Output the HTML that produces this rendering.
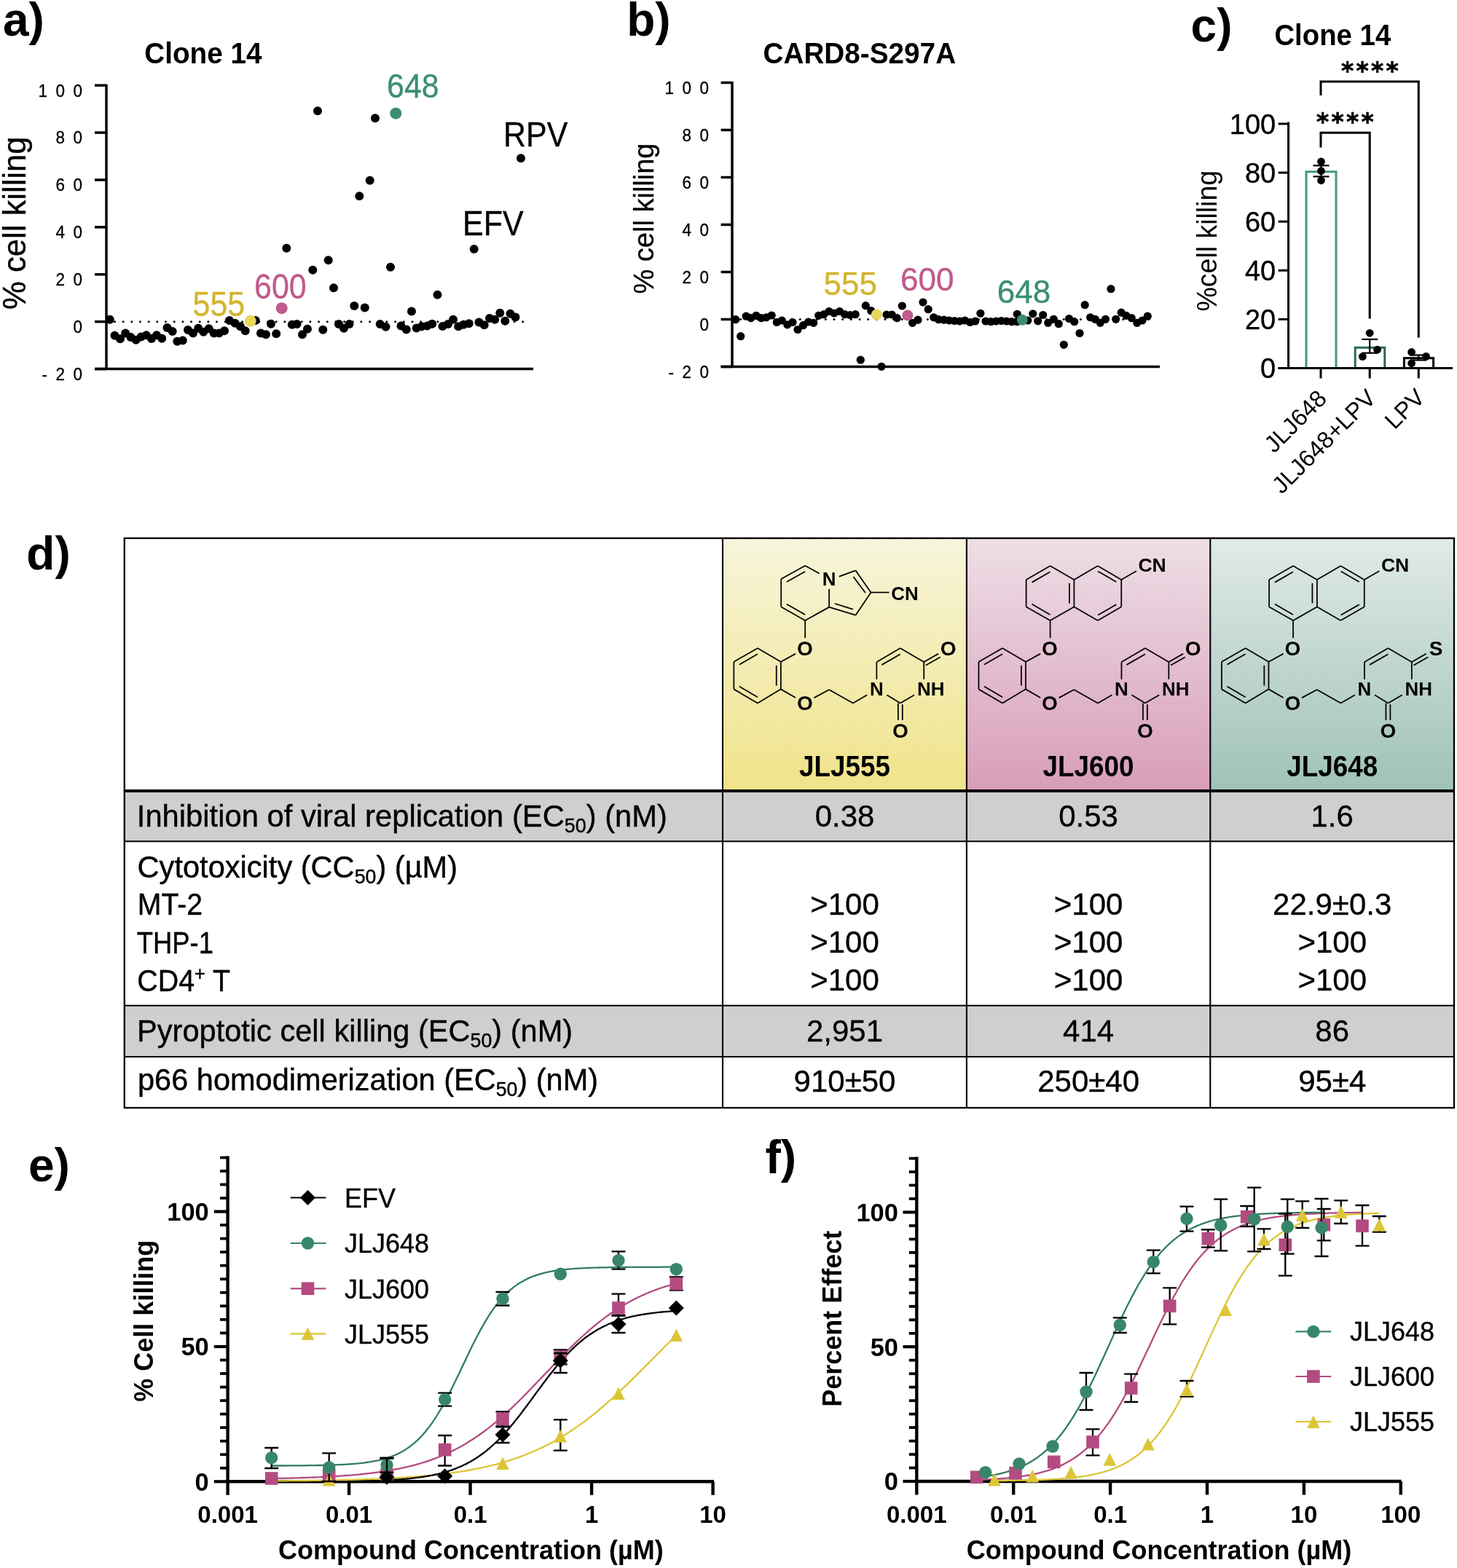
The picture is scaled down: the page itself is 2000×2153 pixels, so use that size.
<!DOCTYPE html>
<html><head><meta charset="utf-8"><title>Figure</title><style>html,body{margin:0;padding:0;background:#fff;}svg{display:block;}text{font-family:"Liberation Sans",Arial,Helvetica,sans-serif;}</style></head><body>
<svg width="2000" height="2153" viewBox="0 0 2000 2153">
<rect width="2000" height="2153" fill="#fff"/>
<text x="4.0" y="49.0" font-size="64" font-weight="bold" text-anchor="start" fill="#000" >a)</text>
<text x="860.2" y="48.7" font-size="64" font-weight="bold" text-anchor="start" fill="#000" >b)</text>
<text x="1634.6" y="56.6" font-size="64" font-weight="bold" text-anchor="start" fill="#000" >c)</text>
<text x="36.3" y="782.0" font-size="64" font-weight="bold" text-anchor="start" fill="#000" >d)</text>
<text x="39.0" y="1622.0" font-size="64" font-weight="bold" text-anchor="start" fill="#000" >e)</text>
<text x="1050.4" y="1611.0" font-size="64" font-weight="bold" text-anchor="start" fill="#000" >f)</text>
<g>
<line x1="146.0" y1="115.7" x2="146.0" y2="506.6" stroke="#000" stroke-width="3.5" />
<line x1="130.0" y1="506.6" x2="732.0" y2="506.6" stroke="#000" stroke-width="3.5" />
<line x1="130.0" y1="117.2" x2="146.0" y2="117.2" stroke="#000" stroke-width="3.5" />
<text transform="translate(52.5,132.5) scale(1,1.06)" font-size="22.5" fill="#000" stroke="#000" stroke-width="0.3" letter-spacing="11.5">100</text>
<line x1="130.0" y1="182.1" x2="146.0" y2="182.1" stroke="#000" stroke-width="3.5" />
<text transform="translate(76.5,197.4) scale(1,1.06)" font-size="22.5" fill="#000" stroke="#000" stroke-width="0.3" letter-spacing="11.5">80</text>
<line x1="130.0" y1="247.0" x2="146.0" y2="247.0" stroke="#000" stroke-width="3.5" />
<text transform="translate(76.5,262.3) scale(1,1.06)" font-size="22.5" fill="#000" stroke="#000" stroke-width="0.3" letter-spacing="11.5">60</text>
<line x1="130.0" y1="311.9" x2="146.0" y2="311.9" stroke="#000" stroke-width="3.5" />
<text transform="translate(76.5,327.2) scale(1,1.06)" font-size="22.5" fill="#000" stroke="#000" stroke-width="0.3" letter-spacing="11.5">40</text>
<line x1="130.0" y1="376.8" x2="146.0" y2="376.8" stroke="#000" stroke-width="3.5" />
<text transform="translate(76.5,392.1) scale(1,1.06)" font-size="22.5" fill="#000" stroke="#000" stroke-width="0.3" letter-spacing="11.5">20</text>
<line x1="130.0" y1="441.7" x2="146.0" y2="441.7" stroke="#000" stroke-width="3.5" />
<text transform="translate(100.5,457.0) scale(1,1.06)" font-size="22.5" fill="#000" stroke="#000" stroke-width="0.3" letter-spacing="11.5">0</text>
<line x1="130.0" y1="506.6" x2="146.0" y2="506.6" stroke="#000" stroke-width="3.5" />
<text transform="translate(57.5,521.9) scale(1,1.06)" font-size="22.5" fill="#000" stroke="#000" stroke-width="0.3" letter-spacing="11.5">-20</text>
<circle cx="157.5" cy="441.7" r="1.5" fill="#000"/>
<circle cx="169.2" cy="441.7" r="1.5" fill="#000"/>
<circle cx="180.8" cy="441.7" r="1.5" fill="#000"/>
<circle cx="192.5" cy="441.7" r="1.5" fill="#000"/>
<circle cx="204.2" cy="441.7" r="1.5" fill="#000"/>
<circle cx="215.8" cy="441.7" r="1.5" fill="#000"/>
<circle cx="227.5" cy="441.7" r="1.5" fill="#000"/>
<circle cx="239.2" cy="441.7" r="1.5" fill="#000"/>
<circle cx="250.9" cy="441.7" r="1.5" fill="#000"/>
<circle cx="262.5" cy="441.7" r="1.5" fill="#000"/>
<circle cx="274.2" cy="441.7" r="1.5" fill="#000"/>
<circle cx="285.9" cy="441.7" r="1.5" fill="#000"/>
<circle cx="297.5" cy="441.7" r="1.5" fill="#000"/>
<circle cx="309.2" cy="441.7" r="1.5" fill="#000"/>
<circle cx="320.9" cy="441.7" r="1.5" fill="#000"/>
<circle cx="332.6" cy="441.7" r="1.5" fill="#000"/>
<circle cx="344.2" cy="441.7" r="1.5" fill="#000"/>
<circle cx="355.9" cy="441.7" r="1.5" fill="#000"/>
<circle cx="367.6" cy="441.7" r="1.5" fill="#000"/>
<circle cx="379.2" cy="441.7" r="1.5" fill="#000"/>
<circle cx="390.9" cy="441.7" r="1.5" fill="#000"/>
<circle cx="402.6" cy="441.7" r="1.5" fill="#000"/>
<circle cx="414.2" cy="441.7" r="1.5" fill="#000"/>
<circle cx="425.9" cy="441.7" r="1.5" fill="#000"/>
<circle cx="437.6" cy="441.7" r="1.5" fill="#000"/>
<circle cx="449.3" cy="441.7" r="1.5" fill="#000"/>
<circle cx="460.9" cy="441.7" r="1.5" fill="#000"/>
<circle cx="472.6" cy="441.7" r="1.5" fill="#000"/>
<circle cx="484.3" cy="441.7" r="1.5" fill="#000"/>
<circle cx="495.9" cy="441.7" r="1.5" fill="#000"/>
<circle cx="507.6" cy="441.7" r="1.5" fill="#000"/>
<circle cx="519.3" cy="441.7" r="1.5" fill="#000"/>
<circle cx="530.9" cy="441.7" r="1.5" fill="#000"/>
<circle cx="542.6" cy="441.7" r="1.5" fill="#000"/>
<circle cx="554.3" cy="441.7" r="1.5" fill="#000"/>
<circle cx="566.0" cy="441.7" r="1.5" fill="#000"/>
<circle cx="577.6" cy="441.7" r="1.5" fill="#000"/>
<circle cx="589.3" cy="441.7" r="1.5" fill="#000"/>
<circle cx="601.0" cy="441.7" r="1.5" fill="#000"/>
<circle cx="612.6" cy="441.7" r="1.5" fill="#000"/>
<circle cx="624.3" cy="441.7" r="1.5" fill="#000"/>
<circle cx="636.0" cy="441.7" r="1.5" fill="#000"/>
<circle cx="647.6" cy="441.7" r="1.5" fill="#000"/>
<circle cx="659.3" cy="441.7" r="1.5" fill="#000"/>
<circle cx="671.0" cy="441.7" r="1.5" fill="#000"/>
<circle cx="682.6" cy="441.7" r="1.5" fill="#000"/>
<circle cx="694.3" cy="441.7" r="1.5" fill="#000"/>
<circle cx="706.0" cy="441.7" r="1.5" fill="#000"/>
<circle cx="717.7" cy="441.7" r="1.5" fill="#000"/>
<circle cx="150.8" cy="438.7" r="6" fill="#000"/>
<circle cx="157.5" cy="460.8" r="6" fill="#000"/>
<circle cx="165.0" cy="465.3" r="6" fill="#000"/>
<circle cx="172.2" cy="457.5" r="6" fill="#000"/>
<circle cx="179.5" cy="463.0" r="6" fill="#000"/>
<circle cx="186.7" cy="466.7" r="6" fill="#000"/>
<circle cx="193.7" cy="462.5" r="6" fill="#000"/>
<circle cx="200.8" cy="460.3" r="6" fill="#000"/>
<circle cx="208.0" cy="465.0" r="6" fill="#000"/>
<circle cx="215.0" cy="460.3" r="6" fill="#000"/>
<circle cx="222.2" cy="464.7" r="6" fill="#000"/>
<circle cx="229.5" cy="450.0" r="6" fill="#000"/>
<circle cx="236.7" cy="455.0" r="6" fill="#000"/>
<circle cx="243.3" cy="468.7" r="6" fill="#000"/>
<circle cx="250.8" cy="467.5" r="6" fill="#000"/>
<circle cx="258.0" cy="453.0" r="6" fill="#000"/>
<circle cx="265.0" cy="457.5" r="6" fill="#000"/>
<circle cx="272.2" cy="450.8" r="6" fill="#000"/>
<circle cx="279.3" cy="455.8" r="6" fill="#000"/>
<circle cx="286.7" cy="451.3" r="6" fill="#000"/>
<circle cx="293.7" cy="457.5" r="6" fill="#000"/>
<circle cx="300.8" cy="457.5" r="6" fill="#000"/>
<circle cx="308.0" cy="454.2" r="6" fill="#000"/>
<circle cx="315.0" cy="440.0" r="6" fill="#000"/>
<circle cx="322.5" cy="443.7" r="6" fill="#000"/>
<circle cx="330.0" cy="448.3" r="6" fill="#000"/>
<circle cx="336.7" cy="454.2" r="6" fill="#000"/>
<circle cx="350.8" cy="440.0" r="6" fill="#000"/>
<circle cx="358.0" cy="457.5" r="6" fill="#000"/>
<circle cx="365.0" cy="459.2" r="6" fill="#000"/>
<circle cx="372.0" cy="444.7" r="6" fill="#000"/>
<circle cx="379.2" cy="458.3" r="6" fill="#000"/>
<circle cx="393.3" cy="340.7" r="6" fill="#000"/>
<circle cx="400.8" cy="445.8" r="6" fill="#000"/>
<circle cx="407.5" cy="445.0" r="6" fill="#000"/>
<circle cx="415.0" cy="459.2" r="6" fill="#000"/>
<circle cx="422.0" cy="451.7" r="6" fill="#000"/>
<circle cx="429.3" cy="370.7" r="6" fill="#000"/>
<circle cx="436.0" cy="152.3" r="6" fill="#000"/>
<circle cx="443.3" cy="452.7" r="6" fill="#000"/>
<circle cx="450.7" cy="357.3" r="6" fill="#000"/>
<circle cx="458.0" cy="395.3" r="6" fill="#000"/>
<circle cx="465.0" cy="445.0" r="6" fill="#000"/>
<circle cx="472.0" cy="450.8" r="6" fill="#000"/>
<circle cx="479.5" cy="445.0" r="6" fill="#000"/>
<circle cx="486.3" cy="420.0" r="6" fill="#000"/>
<circle cx="493.3" cy="269.3" r="6" fill="#000"/>
<circle cx="500.8" cy="422.5" r="6" fill="#000"/>
<circle cx="507.7" cy="247.7" r="6" fill="#000"/>
<circle cx="515.0" cy="162.3" r="6" fill="#000"/>
<circle cx="521.7" cy="445.0" r="6" fill="#000"/>
<circle cx="529.5" cy="448.8" r="6" fill="#000"/>
<circle cx="536.0" cy="366.7" r="6" fill="#000"/>
<circle cx="550.5" cy="447.5" r="6" fill="#000"/>
<circle cx="557.8" cy="452.5" r="6" fill="#000"/>
<circle cx="565.0" cy="427.5" r="6" fill="#000"/>
<circle cx="571.7" cy="450.5" r="6" fill="#000"/>
<circle cx="578.8" cy="448.3" r="6" fill="#000"/>
<circle cx="586.3" cy="447.5" r="6" fill="#000"/>
<circle cx="593.3" cy="444.7" r="6" fill="#000"/>
<circle cx="600.5" cy="404.7" r="6" fill="#000"/>
<circle cx="607.5" cy="448.0" r="6" fill="#000"/>
<circle cx="615.0" cy="445.0" r="6" fill="#000"/>
<circle cx="622.0" cy="438.7" r="6" fill="#000"/>
<circle cx="629.2" cy="448.3" r="6" fill="#000"/>
<circle cx="636.3" cy="445.8" r="6" fill="#000"/>
<circle cx="643.7" cy="444.2" r="6" fill="#000"/>
<circle cx="650.7" cy="342.0" r="6" fill="#000"/>
<circle cx="657.5" cy="442.5" r="6" fill="#000"/>
<circle cx="664.7" cy="446.3" r="6" fill="#000"/>
<circle cx="672.0" cy="437.0" r="6" fill="#000"/>
<circle cx="679.2" cy="438.7" r="6" fill="#000"/>
<circle cx="686.3" cy="429.7" r="6" fill="#000"/>
<circle cx="693.3" cy="440.8" r="6" fill="#000"/>
<circle cx="700.5" cy="430.8" r="6" fill="#000"/>
<circle cx="707.5" cy="435.5" r="6" fill="#000"/>
<circle cx="715.0" cy="217.3" r="6" fill="#000"/>
<circle cx="343.7" cy="440.8" r="8" fill="#e6d75a"/>
<circle cx="386.7" cy="423.2" r="8" fill="#c05a8c"/>
<circle cx="543.3" cy="155.7" r="8" fill="#3b8f70"/>
</g>
<text x="198.2" y="86.8" font-size="40" font-weight="bold" text-anchor="start" fill="#000" textLength="161.4" lengthAdjust="spacingAndGlyphs">Clone 14</text>
<text transform="translate(34.7,306.2) rotate(-90)" font-size="43.6" text-anchor="middle" fill="#000" stroke="#000" stroke-width="0.35">% cell killing</text>
<text transform="translate(531.0,134.4) scale(1,1.06)" font-size="43" fill="#3b8f70" stroke="#3b8f70" stroke-width="0.3" >648</text>
<text transform="translate(264.5,433.6) scale(1,1.1)" font-size="43" fill="#d2b52e" stroke="#d2b52e" stroke-width="0.3" >555</text>
<text transform="translate(349.0,409.8) scale(1,1.1)" font-size="43" fill="#c05a8c" stroke="#c05a8c" stroke-width="0.3" >600</text>
<text transform="translate(691.0,201.0) scale(1,1.1)" font-size="43" fill="#000" stroke="#000" stroke-width="0.3" >RPV</text>
<text transform="translate(635.0,322.6) scale(1,1.1)" font-size="43" fill="#000" stroke="#000" stroke-width="0.3" >EFV</text>
<line x1="1005.0" y1="112.0" x2="1005.0" y2="503.5" stroke="#000" stroke-width="3.5" />
<line x1="989.6" y1="503.5" x2="1592.0" y2="503.5" stroke="#000" stroke-width="3.5" />
<line x1="989.6" y1="113.5" x2="1005.0" y2="113.5" stroke="#000" stroke-width="3.5" />
<text transform="translate(912.5,128.8) scale(1,1.06)" font-size="22.5" fill="#000" stroke="#000" stroke-width="0.3" letter-spacing="11.5">100</text>
<line x1="989.6" y1="178.5" x2="1005.0" y2="178.5" stroke="#000" stroke-width="3.5" />
<text transform="translate(936.5,193.8) scale(1,1.06)" font-size="22.5" fill="#000" stroke="#000" stroke-width="0.3" letter-spacing="11.5">80</text>
<line x1="989.6" y1="243.5" x2="1005.0" y2="243.5" stroke="#000" stroke-width="3.5" />
<text transform="translate(936.5,258.8) scale(1,1.06)" font-size="22.5" fill="#000" stroke="#000" stroke-width="0.3" letter-spacing="11.5">60</text>
<line x1="989.6" y1="308.5" x2="1005.0" y2="308.5" stroke="#000" stroke-width="3.5" />
<text transform="translate(936.5,323.8) scale(1,1.06)" font-size="22.5" fill="#000" stroke="#000" stroke-width="0.3" letter-spacing="11.5">40</text>
<line x1="989.6" y1="373.5" x2="1005.0" y2="373.5" stroke="#000" stroke-width="3.5" />
<text transform="translate(936.5,388.8) scale(1,1.06)" font-size="22.5" fill="#000" stroke="#000" stroke-width="0.3" letter-spacing="11.5">20</text>
<line x1="989.6" y1="438.5" x2="1005.0" y2="438.5" stroke="#000" stroke-width="3.5" />
<text transform="translate(960.5,453.8) scale(1,1.06)" font-size="22.5" fill="#000" stroke="#000" stroke-width="0.3" letter-spacing="11.5">0</text>
<line x1="989.6" y1="503.5" x2="1005.0" y2="503.5" stroke="#000" stroke-width="3.5" />
<text transform="translate(917.5,518.8) scale(1,1.06)" font-size="22.5" fill="#000" stroke="#000" stroke-width="0.3" letter-spacing="11.5">-20</text>
<circle cx="1016.6" cy="438.5" r="1.5" fill="#000"/>
<circle cx="1028.3" cy="438.5" r="1.5" fill="#000"/>
<circle cx="1039.9" cy="438.5" r="1.5" fill="#000"/>
<circle cx="1051.6" cy="438.5" r="1.5" fill="#000"/>
<circle cx="1063.3" cy="438.5" r="1.5" fill="#000"/>
<circle cx="1075.0" cy="438.5" r="1.5" fill="#000"/>
<circle cx="1086.6" cy="438.5" r="1.5" fill="#000"/>
<circle cx="1098.3" cy="438.5" r="1.5" fill="#000"/>
<circle cx="1110.0" cy="438.5" r="1.5" fill="#000"/>
<circle cx="1121.6" cy="438.5" r="1.5" fill="#000"/>
<circle cx="1133.3" cy="438.5" r="1.5" fill="#000"/>
<circle cx="1145.0" cy="438.5" r="1.5" fill="#000"/>
<circle cx="1156.6" cy="438.5" r="1.5" fill="#000"/>
<circle cx="1168.3" cy="438.5" r="1.5" fill="#000"/>
<circle cx="1180.0" cy="438.5" r="1.5" fill="#000"/>
<circle cx="1191.7" cy="438.5" r="1.5" fill="#000"/>
<circle cx="1203.3" cy="438.5" r="1.5" fill="#000"/>
<circle cx="1215.0" cy="438.5" r="1.5" fill="#000"/>
<circle cx="1226.7" cy="438.5" r="1.5" fill="#000"/>
<circle cx="1238.3" cy="438.5" r="1.5" fill="#000"/>
<circle cx="1250.0" cy="438.5" r="1.5" fill="#000"/>
<circle cx="1261.7" cy="438.5" r="1.5" fill="#000"/>
<circle cx="1273.3" cy="438.5" r="1.5" fill="#000"/>
<circle cx="1285.0" cy="438.5" r="1.5" fill="#000"/>
<circle cx="1296.7" cy="438.5" r="1.5" fill="#000"/>
<circle cx="1308.4" cy="438.5" r="1.5" fill="#000"/>
<circle cx="1320.0" cy="438.5" r="1.5" fill="#000"/>
<circle cx="1331.7" cy="438.5" r="1.5" fill="#000"/>
<circle cx="1343.4" cy="438.5" r="1.5" fill="#000"/>
<circle cx="1355.0" cy="438.5" r="1.5" fill="#000"/>
<circle cx="1366.7" cy="438.5" r="1.5" fill="#000"/>
<circle cx="1378.4" cy="438.5" r="1.5" fill="#000"/>
<circle cx="1390.0" cy="438.5" r="1.5" fill="#000"/>
<circle cx="1401.7" cy="438.5" r="1.5" fill="#000"/>
<circle cx="1413.4" cy="438.5" r="1.5" fill="#000"/>
<circle cx="1425.1" cy="438.5" r="1.5" fill="#000"/>
<circle cx="1436.7" cy="438.5" r="1.5" fill="#000"/>
<circle cx="1448.4" cy="438.5" r="1.5" fill="#000"/>
<circle cx="1460.1" cy="438.5" r="1.5" fill="#000"/>
<circle cx="1471.7" cy="438.5" r="1.5" fill="#000"/>
<circle cx="1483.4" cy="438.5" r="1.5" fill="#000"/>
<circle cx="1495.1" cy="438.5" r="1.5" fill="#000"/>
<circle cx="1506.7" cy="438.5" r="1.5" fill="#000"/>
<circle cx="1518.4" cy="438.5" r="1.5" fill="#000"/>
<circle cx="1530.1" cy="438.5" r="1.5" fill="#000"/>
<circle cx="1541.8" cy="438.5" r="1.5" fill="#000"/>
<circle cx="1553.4" cy="438.5" r="1.5" fill="#000"/>
<circle cx="1565.1" cy="438.5" r="1.5" fill="#000"/>
<circle cx="1576.8" cy="438.5" r="1.5" fill="#000"/>
<circle cx="1009.7" cy="438.7" r="5.6" fill="#000"/>
<circle cx="1016.7" cy="461.7" r="5.6" fill="#000"/>
<circle cx="1024.2" cy="434.2" r="5.6" fill="#000"/>
<circle cx="1030.8" cy="436.7" r="5.6" fill="#000"/>
<circle cx="1038.0" cy="433.3" r="5.6" fill="#000"/>
<circle cx="1045.0" cy="436.7" r="5.6" fill="#000"/>
<circle cx="1052.0" cy="435.8" r="5.6" fill="#000"/>
<circle cx="1059.2" cy="433.0" r="5.6" fill="#000"/>
<circle cx="1066.3" cy="442.5" r="5.6" fill="#000"/>
<circle cx="1073.3" cy="440.0" r="5.6" fill="#000"/>
<circle cx="1080.8" cy="445.8" r="5.6" fill="#000"/>
<circle cx="1088.0" cy="442.5" r="5.6" fill="#000"/>
<circle cx="1095.0" cy="452.5" r="5.6" fill="#000"/>
<circle cx="1102.5" cy="446.7" r="5.6" fill="#000"/>
<circle cx="1109.7" cy="442.0" r="5.6" fill="#000"/>
<circle cx="1116.7" cy="443.3" r="5.6" fill="#000"/>
<circle cx="1123.7" cy="433.3" r="5.6" fill="#000"/>
<circle cx="1130.8" cy="431.7" r="5.6" fill="#000"/>
<circle cx="1138.0" cy="427.5" r="5.6" fill="#000"/>
<circle cx="1145.0" cy="430.0" r="5.6" fill="#000"/>
<circle cx="1152.5" cy="427.5" r="5.6" fill="#000"/>
<circle cx="1159.7" cy="431.7" r="5.6" fill="#000"/>
<circle cx="1167.0" cy="432.5" r="5.6" fill="#000"/>
<circle cx="1174.2" cy="431.7" r="5.6" fill="#000"/>
<circle cx="1181.3" cy="494.2" r="5.6" fill="#000"/>
<circle cx="1188.3" cy="419.7" r="5.6" fill="#000"/>
<circle cx="1195.8" cy="426.7" r="5.6" fill="#000"/>
<circle cx="1210.0" cy="503.3" r="5.6" fill="#000"/>
<circle cx="1217.0" cy="432.0" r="5.6" fill="#000"/>
<circle cx="1224.2" cy="432.0" r="5.6" fill="#000"/>
<circle cx="1231.3" cy="436.7" r="5.6" fill="#000"/>
<circle cx="1238.3" cy="420.0" r="5.6" fill="#000"/>
<circle cx="1252.5" cy="443.3" r="5.6" fill="#000"/>
<circle cx="1260.0" cy="439.2" r="5.6" fill="#000"/>
<circle cx="1267.0" cy="415.0" r="5.6" fill="#000"/>
<circle cx="1274.2" cy="424.7" r="5.6" fill="#000"/>
<circle cx="1281.7" cy="435.8" r="5.6" fill="#000"/>
<circle cx="1288.3" cy="438.7" r="5.6" fill="#000"/>
<circle cx="1295.8" cy="439.2" r="5.6" fill="#000"/>
<circle cx="1303.0" cy="440.0" r="5.6" fill="#000"/>
<circle cx="1310.2" cy="440.5" r="5.6" fill="#000"/>
<circle cx="1317.3" cy="441.0" r="5.6" fill="#000"/>
<circle cx="1324.5" cy="440.0" r="5.6" fill="#000"/>
<circle cx="1331.6" cy="442.5" r="5.6" fill="#000"/>
<circle cx="1338.8" cy="441.0" r="5.6" fill="#000"/>
<circle cx="1345.9" cy="430.3" r="5.6" fill="#000"/>
<circle cx="1353.0" cy="441.0" r="5.6" fill="#000"/>
<circle cx="1360.2" cy="441.7" r="5.6" fill="#000"/>
<circle cx="1367.3" cy="441.0" r="5.6" fill="#000"/>
<circle cx="1374.5" cy="440.5" r="5.6" fill="#000"/>
<circle cx="1381.7" cy="441.0" r="5.6" fill="#000"/>
<circle cx="1388.8" cy="441.7" r="5.6" fill="#000"/>
<circle cx="1396.0" cy="441.7" r="5.6" fill="#000"/>
<circle cx="1396.2" cy="431.3" r="5.6" fill="#000"/>
<circle cx="1410.8" cy="440.0" r="5.6" fill="#000"/>
<circle cx="1417.8" cy="430.8" r="5.6" fill="#000"/>
<circle cx="1424.7" cy="440.8" r="5.6" fill="#000"/>
<circle cx="1431.7" cy="432.5" r="5.6" fill="#000"/>
<circle cx="1438.7" cy="443.3" r="5.6" fill="#000"/>
<circle cx="1446.3" cy="438.3" r="5.6" fill="#000"/>
<circle cx="1453.3" cy="444.7" r="5.6" fill="#000"/>
<circle cx="1460.3" cy="473.3" r="5.6" fill="#000"/>
<circle cx="1467.5" cy="437.5" r="5.6" fill="#000"/>
<circle cx="1474.7" cy="441.7" r="5.6" fill="#000"/>
<circle cx="1482.0" cy="457.5" r="5.6" fill="#000"/>
<circle cx="1489.2" cy="418.7" r="5.6" fill="#000"/>
<circle cx="1496.7" cy="435.8" r="5.6" fill="#000"/>
<circle cx="1503.3" cy="438.3" r="5.6" fill="#000"/>
<circle cx="1510.3" cy="443.3" r="5.6" fill="#000"/>
<circle cx="1517.5" cy="438.3" r="5.6" fill="#000"/>
<circle cx="1525.0" cy="396.7" r="5.6" fill="#000"/>
<circle cx="1531.7" cy="438.3" r="5.6" fill="#000"/>
<circle cx="1539.2" cy="429.2" r="5.6" fill="#000"/>
<circle cx="1545.8" cy="433.3" r="5.6" fill="#000"/>
<circle cx="1553.3" cy="436.7" r="5.6" fill="#000"/>
<circle cx="1560.8" cy="443.3" r="5.6" fill="#000"/>
<circle cx="1568.0" cy="440.0" r="5.6" fill="#000"/>
<circle cx="1575.3" cy="434.2" r="5.6" fill="#000"/>
<circle cx="1203.3" cy="432.0" r="7.5" fill="#e6d75a"/>
<circle cx="1245.8" cy="433.0" r="7.5" fill="#c05a8c"/>
<circle cx="1403.3" cy="439.2" r="7.5" fill="#3b8f70"/>
<text x="1047.5" y="87.0" font-size="40" font-weight="bold" text-anchor="start" fill="#000" textLength="264.6" lengthAdjust="spacingAndGlyphs">CARD8-S297A</text>
<text transform="translate(896.5,300) rotate(-90)" font-size="38" text-anchor="middle" fill="#000" stroke="#000" stroke-width="0.35">% cell killing</text>
<text x="1130.5" y="405.3" font-size="44" stroke="#d2b52e" stroke-width="0.35" text-anchor="start" fill="#d2b52e" >555</text>
<text x="1236.0" y="399.0" font-size="44" stroke="#c05a8c" stroke-width="0.35" text-anchor="start" fill="#c05a8c" >600</text>
<text x="1368.8" y="416.3" font-size="44" stroke="#3b8f70" stroke-width="0.35" text-anchor="start" fill="#3b8f70" >648</text>
<line x1="1768.6" y1="167.5" x2="1768.6" y2="507.0" stroke="#000" stroke-width="3" />
<line x1="1754.7" y1="505.5" x2="1994.0" y2="505.5" stroke="#000" stroke-width="3" />
<line x1="1754.7" y1="505.5" x2="1768.6" y2="505.5" stroke="#000" stroke-width="3" />
<text x="1751.2" y="519.1" font-size="38" stroke="#000" stroke-width="0.35" text-anchor="end" fill="#000" >0</text>
<line x1="1754.7" y1="438.4" x2="1768.6" y2="438.4" stroke="#000" stroke-width="3" />
<text x="1751.2" y="452.0" font-size="38" stroke="#000" stroke-width="0.35" text-anchor="end" fill="#000" >20</text>
<line x1="1754.7" y1="371.3" x2="1768.6" y2="371.3" stroke="#000" stroke-width="3" />
<text x="1751.2" y="384.9" font-size="38" stroke="#000" stroke-width="0.35" text-anchor="end" fill="#000" >40</text>
<line x1="1754.7" y1="304.2" x2="1768.6" y2="304.2" stroke="#000" stroke-width="3" />
<text x="1751.2" y="317.8" font-size="38" stroke="#000" stroke-width="0.35" text-anchor="end" fill="#000" >60</text>
<line x1="1754.7" y1="237.1" x2="1768.6" y2="237.1" stroke="#000" stroke-width="3" />
<text x="1751.2" y="250.7" font-size="38" stroke="#000" stroke-width="0.35" text-anchor="end" fill="#000" >80</text>
<line x1="1754.7" y1="170.0" x2="1768.6" y2="170.0" stroke="#000" stroke-width="3" />
<text x="1751.2" y="183.6" font-size="38" stroke="#000" stroke-width="0.35" text-anchor="end" fill="#000" >100</text>
<line x1="1813.0" y1="505.5" x2="1813.0" y2="519.5" stroke="#000" stroke-width="3" />
<line x1="1880.2" y1="505.5" x2="1880.2" y2="519.5" stroke="#000" stroke-width="3" />
<line x1="1947.3" y1="505.5" x2="1947.3" y2="519.5" stroke="#000" stroke-width="3" />
<rect x="1793" y="235.8" width="41" height="269.7" fill="none" stroke="#3f9a76" stroke-width="3"/>
<rect x="1860.2" y="477.3" width="40.6" height="28.2" fill="none" stroke="#2a6a50" stroke-width="3"/>
<rect x="1927.4" y="491.7" width="40.2" height="13.8" fill="none" stroke="#000" stroke-width="3"/>
<line x1="1754.7" y1="505.5" x2="1994.0" y2="505.5" stroke="#000" stroke-width="3" />
<line x1="1813.5" y1="227.3" x2="1813.5" y2="242.4" stroke="#000" stroke-width="2.2" />
<line x1="1802.5" y1="227.3" x2="1824.5" y2="227.3" stroke="#000" stroke-width="2.2" />
<line x1="1802.5" y1="242.4" x2="1824.5" y2="242.4" stroke="#000" stroke-width="2.2" />
<line x1="1880.2" y1="465.9" x2="1880.2" y2="484.7" stroke="#000" stroke-width="2.2" />
<line x1="1869.2" y1="465.9" x2="1891.2" y2="465.9" stroke="#000" stroke-width="2.2" />
<line x1="1869.2" y1="484.7" x2="1891.2" y2="484.7" stroke="#000" stroke-width="2.2" />
<line x1="1947.3" y1="487.5" x2="1947.3" y2="494.5" stroke="#000" stroke-width="2.2" />
<line x1="1936.3" y1="487.5" x2="1958.3" y2="487.5" stroke="#000" stroke-width="2.2" />
<line x1="1936.3" y1="494.5" x2="1958.3" y2="494.5" stroke="#000" stroke-width="2.2" />
<circle cx="1813.5" cy="222" r="5.4" fill="#000"/>
<circle cx="1813.5" cy="234.7" r="5.4" fill="#000"/>
<circle cx="1813.5" cy="247.8" r="5.4" fill="#000"/>
<circle cx="1880.2" cy="457.3" r="5.4" fill="#000"/>
<circle cx="1890.6" cy="480.2" r="5.4" fill="#000"/>
<circle cx="1870.4" cy="489.6" r="5.4" fill="#000"/>
<circle cx="1937.6" cy="483.5" r="5.4" fill="#000"/>
<circle cx="1957.6" cy="489.4" r="5.4" fill="#000"/>
<circle cx="1937.6" cy="498.8" r="5.4" fill="#000"/>
<polyline points="1813,202.4 1813,182.2 1880.2,182.2 1880.2,437.6" fill="none" stroke="#000" stroke-width="3"/>
<polyline points="1813,131 1813,112 1947.3,112 1947.3,463.5" fill="none" stroke="#000" stroke-width="3"/>
<text x="1848" y="179.2" font-size="33" font-weight="bold" text-anchor="middle" letter-spacing="3.2" stroke="#000" stroke-width="0.7" style="font-family:DejaVu Sans,sans-serif">****</text>
<text x="1882" y="109.3" font-size="33" font-weight="bold" text-anchor="middle" letter-spacing="3.2" stroke="#000" stroke-width="0.7" style="font-family:DejaVu Sans,sans-serif">****</text>
<text x="1749.4" y="61.6" font-size="40" font-weight="bold" text-anchor="start" fill="#000" textLength="159.9" lengthAdjust="spacingAndGlyphs">Clone 14</text>
<text transform="translate(1670,330.7) rotate(-90)" font-size="39" text-anchor="middle" textLength="193.5" lengthAdjust="spacingAndGlyphs" fill="#000">%cell killing</text>
<text transform="translate(1823,549.2) rotate(-45)" font-size="32.5" text-anchor="end" fill="#000">JLJ648</text>
<text transform="translate(1890.5,548.5) rotate(-45)" font-size="32.5" text-anchor="end" fill="#000">JLJ648+LPV</text>
<text transform="translate(1957.8,547.6) rotate(-45)" font-size="32.5" text-anchor="end" fill="#000">LPV</text>
<defs><linearGradient id="gy" x1="0" y1="0" x2="0" y2="1"><stop offset="0" stop-color="#f7f5dc"/><stop offset="1" stop-color="#f0e389"/></linearGradient><linearGradient id="gp" x1="0" y1="0" x2="0" y2="1"><stop offset="0" stop-color="#eedfe6"/><stop offset="1" stop-color="#d89db8"/></linearGradient><linearGradient id="gg" x1="0" y1="0" x2="0" y2="1"><stop offset="0" stop-color="#e1eae7"/><stop offset="1" stop-color="#9fc2b8"/></linearGradient></defs>
<rect x="992.05" y="739" width="334.85000000000014" height="347" fill="url(#gy)"/>
<rect x="1326.9" y="739" width="334.39999999999986" height="347" fill="url(#gp)"/>
<rect x="1661.3" y="739" width="334.70000000000005" height="347" fill="url(#gg)"/>
<rect x="170.8" y="1086" width="1825.2" height="69.29999999999995" fill="#cfcfcf"/>
<rect x="170.8" y="1380.7" width="1825.2" height="70.29999999999995" fill="#cfcfcf"/>
<rect x="170.8" y="739" width="1825.2" height="782.0999999999999" fill="none" stroke="#000" stroke-width="2.3"/>
<line x1="992.0" y1="739.0" x2="992.0" y2="1521.1" stroke="#000" stroke-width="2.1" />
<line x1="1326.9" y1="739.0" x2="1326.9" y2="1521.1" stroke="#000" stroke-width="2.1" />
<line x1="1661.3" y1="739.0" x2="1661.3" y2="1521.1" stroke="#000" stroke-width="2.1" />
<line x1="170.8" y1="1086.0" x2="1996.0" y2="1086.0" stroke="#000" stroke-width="3.9" />
<line x1="170.8" y1="1155.3" x2="1996.0" y2="1155.3" stroke="#000" stroke-width="2.1" />
<line x1="170.8" y1="1380.7" x2="1996.0" y2="1380.7" stroke="#000" stroke-width="2.1" />
<line x1="170.8" y1="1451.0" x2="1996.0" y2="1451.0" stroke="#000" stroke-width="2.1" />
<text x="1159.5" y="1065.5" font-size="40.5" font-weight="bold" text-anchor="middle" fill="#000" textLength="125" lengthAdjust="spacingAndGlyphs">JLJ555</text>
<text x="1494.1" y="1065.5" font-size="40.5" font-weight="bold" text-anchor="middle" fill="#000" textLength="125" lengthAdjust="spacingAndGlyphs">JLJ600</text>
<text x="1828.7" y="1065.5" font-size="40.5" font-weight="bold" text-anchor="middle" fill="#000" textLength="125" lengthAdjust="spacingAndGlyphs">JLJ648</text>
<text x="187.8" y="1135" font-size="42" fill="#000" stroke="#000" stroke-width="0.4" textLength="728.2" lengthAdjust="spacingAndGlyphs">Inhibition of viral replication (EC<tspan font-size="27" dy="8">50</tspan><tspan dy="-8">) (nM)</tspan></text>
<text x="188.6" y="1205" font-size="42" fill="#000" stroke="#000" stroke-width="0.4" textLength="439.5" lengthAdjust="spacingAndGlyphs">Cytotoxicity (CC<tspan font-size="27" dy="8">50</tspan><tspan dy="-8">) (µM)</tspan></text>
<text x="188.8" y="1256" font-size="42" fill="#000" stroke="#000" stroke-width="0.4" textLength="89.2" lengthAdjust="spacingAndGlyphs">MT-2</text>
<text x="187.8" y="1308.6" font-size="42" fill="#000" stroke="#000" stroke-width="0.4" textLength="105.2" lengthAdjust="spacingAndGlyphs">THP-1</text>
<text x="188.3" y="1360.5" font-size="42" fill="#000" stroke="#000" stroke-width="0.4" textLength="127.8" lengthAdjust="spacingAndGlyphs">CD4<tspan font-size="27" dy="-15">+</tspan><tspan dy="15"> T</tspan></text>
<text x="188" y="1430.4" font-size="42" fill="#000" stroke="#000" stroke-width="0.4" textLength="598.2" lengthAdjust="spacingAndGlyphs">Pyroptotic cell killing (EC<tspan font-size="27" dy="8">50</tspan><tspan dy="-8">) (nM)</tspan></text>
<text x="189" y="1497" font-size="42" fill="#000" stroke="#000" stroke-width="0.4" textLength="632.1" lengthAdjust="spacingAndGlyphs">p66 homodimerization (EC<tspan font-size="27" dy="8">50</tspan><tspan dy="-8">) (nM)</tspan></text>
<text x="1159.5" y="1134.7" font-size="42" stroke="#000" stroke-width="0.35" text-anchor="middle" fill="#000" >0.38</text>
<text x="1494.1" y="1134.7" font-size="42" stroke="#000" stroke-width="0.35" text-anchor="middle" fill="#000" >0.53</text>
<text x="1828.7" y="1134.7" font-size="42" stroke="#000" stroke-width="0.35" text-anchor="middle" fill="#000" >1.6</text>
<text x="1159.5" y="1256.0" font-size="42" stroke="#000" stroke-width="0.35" text-anchor="middle" fill="#000" >&gt;100</text>
<text x="1494.1" y="1256.0" font-size="42" stroke="#000" stroke-width="0.35" text-anchor="middle" fill="#000" >&gt;100</text>
<text x="1828.7" y="1256.0" font-size="42" stroke="#000" stroke-width="0.35" text-anchor="middle" fill="#000" >22.9±0.3</text>
<text x="1159.5" y="1308.0" font-size="42" stroke="#000" stroke-width="0.35" text-anchor="middle" fill="#000" >&gt;100</text>
<text x="1494.1" y="1308.0" font-size="42" stroke="#000" stroke-width="0.35" text-anchor="middle" fill="#000" >&gt;100</text>
<text x="1828.7" y="1308.0" font-size="42" stroke="#000" stroke-width="0.35" text-anchor="middle" fill="#000" >&gt;100</text>
<text x="1159.5" y="1359.8" font-size="42" stroke="#000" stroke-width="0.35" text-anchor="middle" fill="#000" >&gt;100</text>
<text x="1494.1" y="1359.8" font-size="42" stroke="#000" stroke-width="0.35" text-anchor="middle" fill="#000" >&gt;100</text>
<text x="1828.7" y="1359.8" font-size="42" stroke="#000" stroke-width="0.35" text-anchor="middle" fill="#000" >&gt;100</text>
<text x="1159.5" y="1429.8" font-size="42" stroke="#000" stroke-width="0.35" text-anchor="middle" fill="#000" >2,951</text>
<text x="1494.1" y="1429.8" font-size="42" stroke="#000" stroke-width="0.35" text-anchor="middle" fill="#000" >414</text>
<text x="1828.7" y="1429.8" font-size="42" stroke="#000" stroke-width="0.35" text-anchor="middle" fill="#000" >86</text>
<text x="1159.5" y="1499.2" font-size="42" stroke="#000" stroke-width="0.35" text-anchor="middle" fill="#000" >910±50</text>
<text x="1494.1" y="1499.2" font-size="42" stroke="#000" stroke-width="0.35" text-anchor="middle" fill="#000" >250±40</text>
<text x="1828.7" y="1499.2" font-size="42" stroke="#000" stroke-width="0.35" text-anchor="middle" fill="#000" >95±4</text>
<g transform="translate(1000,760) scale(0.175325)"><g stroke="#000" stroke-width="10" stroke-linecap="butt"><line x1="600" y1="95" x2="412" y2="200"/><line x1="455" y1="222" x2="600" y2="141"/><line x1="412" y1="200" x2="412" y2="418"/><line x1="412" y1="418" x2="600" y2="525"/><line x1="455" y1="396" x2="600" y2="479"/><line x1="600" y1="525" x2="788" y2="420"/><line x1="788" y1="420" x2="788" y2="278"/><line x1="600" y1="95" x2="712" y2="157"/><line x1="866" y1="180" x2="995" y2="133"/><line x1="995" y1="133" x2="1115" y2="305"/><line x1="978" y1="182" x2="1072" y2="308"/><line x1="1115" y1="305" x2="995" y2="483"/><line x1="995" y1="483" x2="788" y2="420"/><line x1="832" y1="392" x2="975" y2="437"/><line x1="1115" y1="305" x2="1258" y2="305"/><line x1="600" y1="525" x2="600" y2="662"/></g><g font-size="148" font-weight="bold" fill="#000"><text x="788" y="253" text-anchor="middle">N</text><text x="1273" y="363" text-anchor="start">CN</text></g></g>
<g transform="translate(1000.00,760) scale(0.175325)"><g stroke="#000" stroke-width="10" stroke-linecap="butt"><line x1="525" y1="785" x2="410" y2="848"/><line x1="410" y1="848" x2="228" y2="742"/><line x1="228" y1="742" x2="42" y2="848"/><line x1="42" y1="848" x2="42" y2="1063"/><line x1="42" y1="1063" x2="228" y2="1172"/><line x1="228" y1="1172" x2="410" y2="1063"/><line x1="410" y1="1063" x2="410" y2="848"/><line x1="85" y1="870" x2="228" y2="787"/><line x1="375" y1="877" x2="375" y2="1035"/><line x1="85" y1="1041" x2="228" y2="1125"/><line x1="410" y1="1063" x2="525" y2="1130"/><line x1="670" y1="1130" x2="788" y2="1067"/><line x1="788" y1="1067" x2="975" y2="1172"/><line x1="975" y1="1172" x2="1085" y2="1108"/><line x1="1160" y1="985" x2="1160" y2="850"/><line x1="1160" y1="850" x2="1345" y2="742"/><line x1="1200" y1="872" x2="1345" y2="788"/><line x1="1345" y1="742" x2="1530" y2="850"/><line x1="1530" y1="850" x2="1530" y2="985"/><line x1="1240" y1="1108" x2="1345" y2="1172"/><line x1="1345" y1="1172" x2="1455" y2="1108"/><line x1="1328" y1="1172" x2="1328" y2="1305"/><line x1="1362" y1="1182" x2="1362" y2="1305"/><line x1="1530" y1="850" x2="1643" y2="785"/><line x1="1545" y1="876" x2="1658" y2="811"/></g><g font-size="148" font-weight="bold" fill="#000"><text x="598" y="799" text-anchor="middle" font-size="160">O</text><text x="598" y="1229" text-anchor="middle" font-size="160">O</text><text x="1160" y="1115" text-anchor="middle">N</text><text x="1477" y="1115" text-anchor="start">NH</text><text x="1345" y="1444" text-anchor="middle" font-size="160">O</text><text x="1720" y="796" text-anchor="middle" font-size="160">O</text></g></g>
<g transform="translate(1335.00,760) scale(0.175325)"><g stroke="#000" stroke-width="10" stroke-linecap="butt"><line x1="608" y1="97" x2="420" y2="205"/><line x1="420" y1="205" x2="420" y2="418"/><line x1="420" y1="418" x2="608" y2="525"/><line x1="608" y1="525" x2="795" y2="418"/><line x1="795" y1="418" x2="795" y2="205"/><line x1="795" y1="205" x2="608" y2="97"/><line x1="795" y1="205" x2="980" y2="97"/><line x1="980" y1="97" x2="1165" y2="205"/><line x1="1165" y1="205" x2="1165" y2="418"/><line x1="1165" y1="418" x2="980" y2="525"/><line x1="980" y1="525" x2="795" y2="418"/><line x1="465" y1="226" x2="607" y2="144"/><line x1="465" y1="397" x2="607" y2="479"/><line x1="758" y1="233" x2="758" y2="390"/><line x1="982" y1="140" x2="1125" y2="222"/><line x1="982" y1="482" x2="1125" y2="400"/><line x1="1165" y1="205" x2="1283" y2="137"/><line x1="608" y1="525" x2="608" y2="662"/></g><g font-size="148" font-weight="bold" fill="#000"><text x="1297" y="142" text-anchor="start" font-size="152">CN</text></g></g>
<g transform="translate(1336.10,760) scale(0.175325)"><g stroke="#000" stroke-width="10" stroke-linecap="butt"><line x1="525" y1="785" x2="410" y2="848"/><line x1="410" y1="848" x2="228" y2="742"/><line x1="228" y1="742" x2="42" y2="848"/><line x1="42" y1="848" x2="42" y2="1063"/><line x1="42" y1="1063" x2="228" y2="1172"/><line x1="228" y1="1172" x2="410" y2="1063"/><line x1="410" y1="1063" x2="410" y2="848"/><line x1="85" y1="870" x2="228" y2="787"/><line x1="375" y1="877" x2="375" y2="1035"/><line x1="85" y1="1041" x2="228" y2="1125"/><line x1="410" y1="1063" x2="525" y2="1130"/><line x1="670" y1="1130" x2="788" y2="1067"/><line x1="788" y1="1067" x2="975" y2="1172"/><line x1="975" y1="1172" x2="1085" y2="1108"/><line x1="1160" y1="985" x2="1160" y2="850"/><line x1="1160" y1="850" x2="1345" y2="742"/><line x1="1200" y1="872" x2="1345" y2="788"/><line x1="1345" y1="742" x2="1530" y2="850"/><line x1="1530" y1="850" x2="1530" y2="985"/><line x1="1240" y1="1108" x2="1345" y2="1172"/><line x1="1345" y1="1172" x2="1455" y2="1108"/><line x1="1328" y1="1172" x2="1328" y2="1305"/><line x1="1362" y1="1182" x2="1362" y2="1305"/><line x1="1530" y1="850" x2="1643" y2="785"/><line x1="1545" y1="876" x2="1658" y2="811"/></g><g font-size="148" font-weight="bold" fill="#000"><text x="598" y="799" text-anchor="middle" font-size="160">O</text><text x="598" y="1229" text-anchor="middle" font-size="160">O</text><text x="1160" y="1115" text-anchor="middle">N</text><text x="1477" y="1115" text-anchor="start">NH</text><text x="1345" y="1444" text-anchor="middle" font-size="160">O</text><text x="1720" y="796" text-anchor="middle" font-size="160">O</text></g></g>
<g transform="translate(1668.50,760) scale(0.175325)"><g stroke="#000" stroke-width="10" stroke-linecap="butt"><line x1="608" y1="97" x2="420" y2="205"/><line x1="420" y1="205" x2="420" y2="418"/><line x1="420" y1="418" x2="608" y2="525"/><line x1="608" y1="525" x2="795" y2="418"/><line x1="795" y1="418" x2="795" y2="205"/><line x1="795" y1="205" x2="608" y2="97"/><line x1="795" y1="205" x2="980" y2="97"/><line x1="980" y1="97" x2="1165" y2="205"/><line x1="1165" y1="205" x2="1165" y2="418"/><line x1="1165" y1="418" x2="980" y2="525"/><line x1="980" y1="525" x2="795" y2="418"/><line x1="465" y1="226" x2="607" y2="144"/><line x1="465" y1="397" x2="607" y2="479"/><line x1="758" y1="233" x2="758" y2="390"/><line x1="982" y1="140" x2="1125" y2="222"/><line x1="982" y1="482" x2="1125" y2="400"/><line x1="1165" y1="205" x2="1283" y2="137"/><line x1="608" y1="525" x2="608" y2="662"/></g><g font-size="148" font-weight="bold" fill="#000"><text x="1297" y="142" text-anchor="start" font-size="152">CN</text></g></g>
<g transform="translate(1669.60,760) scale(0.175325)"><g stroke="#000" stroke-width="10" stroke-linecap="butt"><line x1="525" y1="785" x2="410" y2="848"/><line x1="410" y1="848" x2="228" y2="742"/><line x1="228" y1="742" x2="42" y2="848"/><line x1="42" y1="848" x2="42" y2="1063"/><line x1="42" y1="1063" x2="228" y2="1172"/><line x1="228" y1="1172" x2="410" y2="1063"/><line x1="410" y1="1063" x2="410" y2="848"/><line x1="85" y1="870" x2="228" y2="787"/><line x1="375" y1="877" x2="375" y2="1035"/><line x1="85" y1="1041" x2="228" y2="1125"/><line x1="410" y1="1063" x2="525" y2="1130"/><line x1="670" y1="1130" x2="788" y2="1067"/><line x1="788" y1="1067" x2="975" y2="1172"/><line x1="975" y1="1172" x2="1085" y2="1108"/><line x1="1160" y1="985" x2="1160" y2="850"/><line x1="1160" y1="850" x2="1345" y2="742"/><line x1="1200" y1="872" x2="1345" y2="788"/><line x1="1345" y1="742" x2="1530" y2="850"/><line x1="1530" y1="850" x2="1530" y2="985"/><line x1="1240" y1="1108" x2="1345" y2="1172"/><line x1="1345" y1="1172" x2="1455" y2="1108"/><line x1="1328" y1="1172" x2="1328" y2="1305"/><line x1="1362" y1="1182" x2="1362" y2="1305"/><line x1="1530" y1="850" x2="1643" y2="785"/><line x1="1545" y1="876" x2="1658" y2="811"/></g><g font-size="148" font-weight="bold" fill="#000"><text x="598" y="799" text-anchor="middle" font-size="160">O</text><text x="598" y="1229" text-anchor="middle" font-size="160">O</text><text x="1160" y="1115" text-anchor="middle">N</text><text x="1477" y="1115" text-anchor="start">NH</text><text x="1345" y="1444" text-anchor="middle" font-size="160">O</text><text x="1720" y="796" text-anchor="middle" font-size="160">S</text></g></g>
<line x1="293.8" y1="2034.3" x2="312.6" y2="2034.3" stroke="#000" stroke-width="4.2" />
<line x1="302.1" y1="2015.8" x2="312.6" y2="2015.8" stroke="#000" stroke-width="3.8" />
<line x1="302.1" y1="1997.2" x2="312.6" y2="1997.2" stroke="#000" stroke-width="3.8" />
<line x1="302.1" y1="1978.7" x2="312.6" y2="1978.7" stroke="#000" stroke-width="3.8" />
<line x1="302.1" y1="1960.2" x2="312.6" y2="1960.2" stroke="#000" stroke-width="3.8" />
<line x1="302.1" y1="1941.6" x2="312.6" y2="1941.6" stroke="#000" stroke-width="3.8" />
<line x1="302.1" y1="1923.1" x2="312.6" y2="1923.1" stroke="#000" stroke-width="3.8" />
<line x1="302.1" y1="1904.6" x2="312.6" y2="1904.6" stroke="#000" stroke-width="3.8" />
<line x1="302.1" y1="1886.0" x2="312.6" y2="1886.0" stroke="#000" stroke-width="3.8" />
<line x1="302.1" y1="1867.5" x2="312.6" y2="1867.5" stroke="#000" stroke-width="3.8" />
<line x1="293.8" y1="1849.0" x2="312.6" y2="1849.0" stroke="#000" stroke-width="4.2" />
<line x1="302.1" y1="1830.4" x2="312.6" y2="1830.4" stroke="#000" stroke-width="3.8" />
<line x1="302.1" y1="1811.9" x2="312.6" y2="1811.9" stroke="#000" stroke-width="3.8" />
<line x1="302.1" y1="1793.3" x2="312.6" y2="1793.3" stroke="#000" stroke-width="3.8" />
<line x1="302.1" y1="1774.8" x2="312.6" y2="1774.8" stroke="#000" stroke-width="3.8" />
<line x1="302.1" y1="1756.3" x2="312.6" y2="1756.3" stroke="#000" stroke-width="3.8" />
<line x1="302.1" y1="1737.7" x2="312.6" y2="1737.7" stroke="#000" stroke-width="3.8" />
<line x1="302.1" y1="1719.2" x2="312.6" y2="1719.2" stroke="#000" stroke-width="3.8" />
<line x1="302.1" y1="1700.7" x2="312.6" y2="1700.7" stroke="#000" stroke-width="3.8" />
<line x1="302.1" y1="1682.1" x2="312.6" y2="1682.1" stroke="#000" stroke-width="3.8" />
<line x1="293.8" y1="1663.6" x2="312.6" y2="1663.6" stroke="#000" stroke-width="4.2" />
<line x1="302.1" y1="1645.1" x2="312.6" y2="1645.1" stroke="#000" stroke-width="3.8" />
<line x1="302.1" y1="1626.5" x2="312.6" y2="1626.5" stroke="#000" stroke-width="3.8" />
<line x1="302.1" y1="1608.0" x2="312.6" y2="1608.0" stroke="#000" stroke-width="3.8" />
<line x1="302.1" y1="1589.5" x2="312.6" y2="1589.5" stroke="#000" stroke-width="3.8" />
<line x1="312.6" y1="1587.5" x2="312.6" y2="2036.5" stroke="#000" stroke-width="4.4" />
<line x1="312.6" y1="2034.3" x2="980.0" y2="2034.3" stroke="#000" stroke-width="4.4" />
<line x1="312.6" y1="2034.3" x2="312.6" y2="2052.8" stroke="#000" stroke-width="4.4" />
<text x="312.6" y="2090.5" font-size="33" font-weight="bold" text-anchor="middle" fill="#000" >0.001</text>
<line x1="479.1" y1="2034.3" x2="479.1" y2="2052.8" stroke="#000" stroke-width="4.4" />
<text x="479.1" y="2090.5" font-size="33" font-weight="bold" text-anchor="middle" fill="#000" >0.01</text>
<line x1="645.6" y1="2034.3" x2="645.6" y2="2052.8" stroke="#000" stroke-width="4.4" />
<text x="645.6" y="2090.5" font-size="33" font-weight="bold" text-anchor="middle" fill="#000" >0.1</text>
<line x1="812.1" y1="2034.3" x2="812.1" y2="2052.8" stroke="#000" stroke-width="4.4" />
<text x="812.1" y="2090.5" font-size="33" font-weight="bold" text-anchor="middle" fill="#000" >1</text>
<line x1="978.6" y1="2034.3" x2="978.6" y2="2052.8" stroke="#000" stroke-width="4.4" />
<text x="978.6" y="2090.5" font-size="33" font-weight="bold" text-anchor="middle" fill="#000" >10</text>
<text x="286.8" y="2046.6" font-size="34.5" font-weight="bold" text-anchor="end" fill="#000" >0</text>
<text x="286.8" y="1861.2" font-size="34.5" font-weight="bold" text-anchor="end" fill="#000" >50</text>
<text x="286.8" y="1675.9" font-size="34.5" font-weight="bold" text-anchor="end" fill="#000" >100</text>
<text x="646.3" y="2140.5" font-size="36" font-weight="bold" text-anchor="middle" fill="#000" >Compound Concentration (µM)</text>
<text transform="translate(210,1813.7) rotate(-90)" font-size="36" font-weight="bold" text-anchor="middle" fill="#000">% Cell killing</text>
<polyline points="372.7,2030.1 375.5,2030.0 378.3,2030.0 381.0,2029.9 383.8,2029.9 386.6,2029.8 389.4,2029.8 392.1,2029.7 394.9,2029.6 397.7,2029.6 400.5,2029.5 403.3,2029.4 406.0,2029.4 408.8,2029.3 411.6,2029.2 414.4,2029.1 417.1,2029.0 419.9,2028.9 422.7,2028.8 425.5,2028.7 428.3,2028.6 431.0,2028.5 433.8,2028.4 436.6,2028.3 439.4,2028.2 442.1,2028.0 444.9,2027.9 447.7,2027.8 450.5,2027.6 453.3,2027.5 456.0,2027.3 458.8,2027.1 461.6,2027.0 464.4,2026.8 467.2,2026.6 469.9,2026.4 472.7,2026.2 475.5,2026.0 478.3,2025.8 481.0,2025.6 483.8,2025.3 486.6,2025.1 489.4,2024.9 492.2,2024.6 494.9,2024.3 497.7,2024.0 500.5,2023.7 503.3,2023.4 506.0,2023.1 508.8,2022.8 511.6,2022.5 514.4,2022.1 517.2,2021.7 519.9,2021.4 522.7,2021.0 525.5,2020.5 528.3,2020.1 531.0,2019.7 533.8,2019.2 536.6,2018.7 539.4,2018.2 542.2,2017.7 544.9,2017.2 547.7,2016.6 550.5,2016.0 553.3,2015.4 556.0,2014.8 558.8,2014.2 561.6,2013.5 564.4,2012.8 567.2,2012.1 569.9,2011.4 572.7,2010.6 575.5,2009.8 578.3,2009.0 581.0,2008.1 583.8,2007.3 586.6,2006.3 589.4,2005.4 592.2,2004.4 594.9,2003.4 597.7,2002.4 600.5,2001.3 603.3,2000.2 606.1,1999.1 608.8,1997.9 611.6,1996.6 614.4,1995.4 617.2,1994.1 619.9,1992.8 622.7,1991.4 625.5,1990.0 628.3,1988.5 631.1,1987.0 633.8,1985.4 636.6,1983.9 639.4,1982.2 642.2,1980.5 644.9,1978.8 647.7,1977.0 650.5,1975.2 653.3,1973.4 656.1,1971.5 658.8,1969.5 661.6,1967.5 664.4,1965.5 667.2,1963.4 669.9,1961.3 672.7,1959.1 675.5,1956.9 678.3,1954.6 681.1,1952.3 683.8,1949.9 686.6,1947.5 689.4,1945.1 692.2,1942.6 694.9,1940.1 697.7,1937.5 700.5,1935.0 703.3,1932.3 706.1,1929.7 708.8,1927.0 711.6,1924.3 714.4,1921.5 717.2,1918.7 719.9,1915.9 722.7,1913.1 725.5,1910.3 728.3,1907.4 731.1,1904.5 733.8,1901.6 736.6,1898.7 739.4,1895.8 742.2,1892.9 745.0,1889.9 747.7,1887.0 750.5,1884.1 753.3,1881.2 756.1,1878.2 758.8,1875.3 761.6,1872.4 764.4,1869.5 767.2,1866.6 770.0,1863.8 772.7,1860.9 775.5,1858.1 778.3,1855.3 781.1,1852.6 783.8,1849.8 786.6,1847.1 789.4,1844.4 792.2,1841.7 795.0,1839.1 797.7,1836.5 800.5,1834.0 803.3,1831.5 806.1,1829.0 808.8,1826.6 811.6,1824.2 814.4,1821.8 817.2,1819.5 820.0,1817.3 822.7,1815.1 825.5,1812.9 828.3,1810.8 831.1,1808.7 833.8,1806.7 836.6,1804.7 839.4,1802.7 842.2,1800.8 845.0,1799.0 847.7,1797.2 850.5,1795.4 853.3,1793.7 856.1,1792.0 858.8,1790.4 861.6,1788.8 864.4,1787.3 867.2,1785.8 870.0,1784.3 872.7,1782.9 875.5,1781.5 878.3,1780.2 881.1,1778.9 883.9,1777.7 886.6,1776.4 889.4,1775.3 892.2,1774.1 895.0,1773.0 897.7,1772.0 900.5,1770.9 903.3,1769.9 906.1,1768.9 908.9,1768.0 911.6,1767.1 914.4,1766.2 917.2,1765.4 920.0,1764.6 922.7,1763.8 925.5,1763.0 928.3,1762.3" fill="none" stroke="#b34b81" stroke-width="2.3"/>
<polyline points="372.7,2033.5 375.5,2033.4 378.3,2033.4 381.0,2033.4 383.8,2033.4 386.6,2033.3 389.4,2033.3 392.1,2033.3 394.9,2033.3 397.7,2033.2 400.5,2033.2 403.3,2033.2 406.0,2033.2 408.8,2033.1 411.6,2033.1 414.4,2033.1 417.1,2033.0 419.9,2033.0 422.7,2033.0 425.5,2032.9 428.3,2032.9 431.0,2032.8 433.8,2032.8 436.6,2032.8 439.4,2032.7 442.1,2032.7 444.9,2032.6 447.7,2032.6 450.5,2032.5 453.3,2032.5 456.0,2032.4 458.8,2032.4 461.6,2032.3 464.4,2032.2 467.2,2032.2 469.9,2032.1 472.7,2032.0 475.5,2032.0 478.3,2031.9 481.0,2031.8 483.8,2031.8 486.6,2031.7 489.4,2031.6 492.2,2031.5 494.9,2031.4 497.7,2031.3 500.5,2031.2 503.3,2031.1 506.0,2031.0 508.8,2030.9 511.6,2030.8 514.4,2030.7 517.2,2030.6 519.9,2030.5 522.7,2030.4 525.5,2030.3 528.3,2030.1 531.0,2030.0 533.8,2029.9 536.6,2029.7 539.4,2029.6 542.2,2029.4 544.9,2029.3 547.7,2029.1 550.5,2028.9 553.3,2028.8 556.0,2028.6 558.8,2028.4 561.6,2028.2 564.4,2028.0 567.2,2027.8 569.9,2027.6 572.7,2027.4 575.5,2027.2 578.3,2026.9 581.0,2026.7 583.8,2026.4 586.6,2026.2 589.4,2025.9 592.2,2025.7 594.9,2025.4 597.7,2025.1 600.5,2024.8 603.3,2024.5 606.1,2024.2 608.8,2023.8 611.6,2023.5 614.4,2023.1 617.2,2022.8 619.9,2022.4 622.7,2022.0 625.5,2021.6 628.3,2021.2 631.1,2020.8 633.8,2020.4 636.6,2019.9 639.4,2019.5 642.2,2019.0 644.9,2018.5 647.7,2018.0 650.5,2017.5 653.3,2016.9 656.1,2016.4 658.8,2015.8 661.6,2015.2 664.4,2014.6 667.2,2014.0 669.9,2013.4 672.7,2012.7 675.5,2012.0 678.3,2011.3 681.1,2010.6 683.8,2009.8 686.6,2009.1 689.4,2008.3 692.2,2007.5 694.9,2006.7 697.7,2005.8 700.5,2004.9 703.3,2004.0 706.1,2003.1 708.8,2002.1 711.6,2001.1 714.4,2000.1 717.2,1999.1 719.9,1998.0 722.7,1996.9 725.5,1995.8 728.3,1994.7 731.1,1993.5 733.8,1992.3 736.6,1991.0 739.4,1989.8 742.2,1988.5 745.0,1987.1 747.7,1985.7 750.5,1984.3 753.3,1982.9 756.1,1981.4 758.8,1979.9 761.6,1978.4 764.4,1976.8 767.2,1975.2 770.0,1973.6 772.7,1971.9 775.5,1970.2 778.3,1968.4 781.1,1966.6 783.8,1964.8 786.6,1962.9 789.4,1961.0 792.2,1959.1 795.0,1957.1 797.7,1955.1 800.5,1953.1 803.3,1951.0 806.1,1948.9 808.8,1946.8 811.6,1944.6 814.4,1942.4 817.2,1940.1 820.0,1937.8 822.7,1935.5 825.5,1933.2 828.3,1930.8 831.1,1928.4 833.8,1925.9 836.6,1923.5 839.4,1921.0 842.2,1918.4 845.0,1915.9 847.7,1913.3 850.5,1910.7 853.3,1908.1 856.1,1905.4 858.8,1902.8 861.6,1900.1 864.4,1897.4 867.2,1894.6 870.0,1891.9 872.7,1889.2 875.5,1886.4 878.3,1883.6 881.1,1880.8 883.9,1878.0 886.6,1875.2 889.4,1872.4 892.2,1869.6 895.0,1866.8 897.7,1864.0 900.5,1861.2 903.3,1858.4 906.1,1855.6 908.9,1852.8 911.6,1850.0 914.4,1847.2 917.2,1844.5 920.0,1841.7 922.7,1839.0 925.5,1836.3 928.3,1833.6" fill="none" stroke="#dcc637" stroke-width="2.3"/>
<polyline points="372.7,2012.5 375.5,2012.5 378.3,2012.5 381.0,2012.5 383.8,2012.5 386.6,2012.5 389.4,2012.5 392.1,2012.5 394.9,2012.4 397.7,2012.4 400.5,2012.4 403.3,2012.4 406.0,2012.4 408.8,2012.4 411.6,2012.3 414.4,2012.3 417.1,2012.3 419.9,2012.3 422.7,2012.2 425.5,2012.2 428.3,2012.1 431.0,2012.1 433.8,2012.1 436.6,2012.0 439.4,2012.0 442.1,2011.9 444.9,2011.8 447.7,2011.8 450.5,2011.7 453.3,2011.6 456.0,2011.5 458.8,2011.4 461.6,2011.3 464.4,2011.2 467.2,2011.1 469.9,2011.0 472.7,2010.8 475.5,2010.7 478.3,2010.5 481.0,2010.3 483.8,2010.1 486.6,2009.9 489.4,2009.6 492.2,2009.4 494.9,2009.1 497.7,2008.8 500.5,2008.4 503.3,2008.0 506.0,2007.6 508.8,2007.2 511.6,2006.7 514.4,2006.2 517.2,2005.7 519.9,2005.1 522.7,2004.4 525.5,2003.7 528.3,2002.9 531.0,2002.1 533.8,2001.2 536.6,2000.2 539.4,1999.1 542.2,1998.0 544.9,1996.7 547.7,1995.4 550.5,1993.9 553.3,1992.4 556.0,1990.7 558.8,1988.9 561.6,1987.0 564.4,1984.9 567.2,1982.7 569.9,1980.3 572.7,1977.8 575.5,1975.1 578.3,1972.2 581.0,1969.2 583.8,1966.0 586.6,1962.5 589.4,1958.9 592.2,1955.1 594.9,1951.1 597.7,1946.9 600.5,1942.5 603.3,1937.9 606.1,1933.2 608.8,1928.2 611.6,1923.1 614.4,1917.9 617.2,1912.5 619.9,1907.0 622.7,1901.3 625.5,1895.6 628.3,1889.8 631.1,1884.0 633.8,1878.1 636.6,1872.3 639.4,1866.4 642.2,1860.6 644.9,1854.8 647.7,1849.1 650.5,1843.5 653.3,1838.0 656.1,1832.7 658.8,1827.5 661.6,1822.4 664.4,1817.6 667.2,1812.9 669.9,1808.3 672.7,1804.0 675.5,1799.9 678.3,1795.9 681.1,1792.2 683.8,1788.6 686.6,1785.3 689.4,1782.1 692.2,1779.1 694.9,1776.3 697.7,1773.6 700.5,1771.2 703.3,1768.8 706.1,1766.7 708.8,1764.6 711.6,1762.8 714.4,1761.0 717.2,1759.4 719.9,1757.9 722.7,1756.5 725.5,1755.1 728.3,1753.9 731.1,1752.8 733.8,1751.8 736.6,1750.8 739.4,1749.9 742.2,1749.1 745.0,1748.4 747.7,1747.7 750.5,1747.0 753.3,1746.4 756.1,1745.9 758.8,1745.4 761.6,1744.9 764.4,1744.5 767.2,1744.1 770.0,1743.8 772.7,1743.4 775.5,1743.1 778.3,1742.8 781.1,1742.6 783.8,1742.4 786.6,1742.1 789.4,1741.9 792.2,1741.7 795.0,1741.6 797.7,1741.4 800.5,1741.3 803.3,1741.2 806.1,1741.0 808.8,1740.9 811.6,1740.8 814.4,1740.7 817.2,1740.6 820.0,1740.6 822.7,1740.5 825.5,1740.4 828.3,1740.4 831.1,1740.3 833.8,1740.3 836.6,1740.2 839.4,1740.2 842.2,1740.1 845.0,1740.1 847.7,1740.1 850.5,1740.0 853.3,1740.0 856.1,1740.0 858.8,1740.0 861.6,1739.9 864.4,1739.9 867.2,1739.9 870.0,1739.9 872.7,1739.9 875.5,1739.8 878.3,1739.8 881.1,1739.8 883.9,1739.8 886.6,1739.8 889.4,1739.8 892.2,1739.8 895.0,1739.8 897.7,1739.8 900.5,1739.8 903.3,1739.8 906.1,1739.8 908.9,1739.7 911.6,1739.7 914.4,1739.7 917.2,1739.7 920.0,1739.7 922.7,1739.7 925.5,1739.7 928.3,1739.7" fill="none" stroke="#317c5f" stroke-width="2.3"/>
<polyline points="531.0,2032.4 533.0,2032.3 535.0,2032.2 537.0,2032.1 538.9,2032.0 540.9,2031.9 542.9,2031.7 544.9,2031.6 546.9,2031.5 548.9,2031.3 550.9,2031.2 552.9,2031.0 554.8,2030.8 556.8,2030.7 558.8,2030.5 560.8,2030.3 562.8,2030.1 564.8,2029.9 566.8,2029.7 568.7,2029.4 570.7,2029.2 572.7,2028.9 574.7,2028.7 576.7,2028.4 578.7,2028.1 580.7,2027.8 582.6,2027.5 584.6,2027.2 586.6,2026.9 588.6,2026.5 590.6,2026.1 592.6,2025.8 594.6,2025.4 596.6,2024.9 598.5,2024.5 600.5,2024.1 602.5,2023.6 604.5,2023.1 606.5,2022.6 608.5,2022.0 610.5,2021.5 612.4,2020.9 614.4,2020.3 616.4,2019.7 618.4,2019.0 620.4,2018.3 622.4,2017.6 624.4,2016.9 626.4,2016.1 628.3,2015.3 630.3,2014.5 632.3,2013.6 634.3,2012.8 636.3,2011.8 638.3,2010.9 640.3,2009.9 642.2,2008.8 644.2,2007.8 646.2,2006.7 648.2,2005.5 650.2,2004.3 652.2,2003.1 654.2,2001.8 656.1,2000.5 658.1,1999.1 660.1,1997.7 662.1,1996.3 664.1,1994.8 666.1,1993.3 668.1,1991.7 670.1,1990.0 672.0,1988.4 674.0,1986.6 676.0,1984.9 678.0,1983.0 680.0,1981.2 682.0,1979.2 684.0,1977.3 685.9,1975.3 687.9,1973.2 689.9,1971.1 691.9,1969.0 693.9,1966.8 695.9,1964.5 697.9,1962.2 699.9,1959.9 701.8,1957.6 703.8,1955.2 705.8,1952.7 707.8,1950.3 709.8,1947.8 711.8,1945.2 713.8,1942.7 715.7,1940.1 717.7,1937.5 719.7,1934.8 721.7,1932.2 723.7,1929.5 725.7,1926.8 727.7,1924.1 729.6,1921.4 731.6,1918.7 733.6,1916.0 735.6,1913.3 737.6,1910.6 739.6,1907.9 741.6,1905.2 743.6,1902.5 745.5,1899.8 747.5,1897.2 749.5,1894.5 751.5,1891.9 753.5,1889.3 755.5,1886.8 757.5,1884.2 759.4,1881.7 761.4,1879.3 763.4,1876.8 765.4,1874.4 767.4,1872.1 769.4,1869.8 771.4,1867.5 773.4,1865.2 775.3,1863.0 777.3,1860.9 779.3,1858.8 781.3,1856.7 783.3,1854.7 785.3,1852.7 787.3,1850.8 789.2,1849.0 791.2,1847.1 793.2,1845.4 795.2,1843.6 797.2,1842.0 799.2,1840.3 801.2,1838.7 803.2,1837.2 805.1,1835.7 807.1,1834.3 809.1,1832.9 811.1,1831.5 813.1,1830.2 815.1,1828.9 817.1,1827.7 819.0,1826.5 821.0,1825.3 823.0,1824.2 825.0,1823.2 827.0,1822.1 829.0,1821.1 831.0,1820.2 832.9,1819.2 834.9,1818.3 836.9,1817.5 838.9,1816.7 840.9,1815.9 842.9,1815.1 844.9,1814.4 846.9,1813.6 848.8,1813.0 850.8,1812.3 852.8,1811.7 854.8,1811.1 856.8,1810.5 858.8,1809.9 860.8,1809.4 862.7,1808.9 864.7,1808.4 866.7,1807.9 868.7,1807.5 870.7,1807.0 872.7,1806.6 874.7,1806.2 876.7,1805.8 878.6,1805.5 880.6,1805.1 882.6,1804.8 884.6,1804.5 886.6,1804.2 888.6,1803.9 890.6,1803.6 892.5,1803.3 894.5,1803.0 896.5,1802.8 898.5,1802.6 900.5,1802.3 902.5,1802.1 904.5,1801.9 906.4,1801.7 908.4,1801.5 910.4,1801.3 912.4,1801.1 914.4,1801.0 916.4,1800.8 918.4,1800.7 920.4,1800.5 922.3,1800.4 924.3,1800.2 926.3,1800.1 928.3,1800.0" fill="none" stroke="#000" stroke-width="2.3"/>
<path d="M610.7,1971V2012.5M601.2,1971H620.2M601.2,2012.5H620.2" stroke="#000" stroke-width="2.3" fill="none"/>
<path d="M690,1938.3V1958.3M680.5,1938.3H699.5M680.5,1958.3H699.5" stroke="#000" stroke-width="2.3" fill="none"/>
<path d="M769.3,1853.3V1873.3M759.8,1853.3H778.8M759.8,1873.3H778.8" stroke="#000" stroke-width="2.3" fill="none"/>
<path d="M849,1776.7V1806M839.5,1776.7H858.5M839.5,1806H858.5" stroke="#000" stroke-width="2.3" fill="none"/>
<path d="M928.3,1753.3V1771.7M918.8,1753.3H937.8M918.8,1771.7H937.8" stroke="#000" stroke-width="2.3" fill="none"/>
<rect x="363.9" y="2021.2" width="17.6" height="17.6" fill="#b34b81"/>
<rect x="442.9" y="2017.2" width="17.6" height="17.6" fill="#b34b81"/>
<rect x="522.2" y="2016.2" width="17.6" height="17.6" fill="#b34b81"/>
<rect x="601.9" y="1981.9" width="17.6" height="17.6" fill="#b34b81"/>
<rect x="681.2" y="1939.5" width="17.6" height="17.6" fill="#b34b81"/>
<rect x="760.5" y="1854.5" width="17.6" height="17.6" fill="#b34b81"/>
<rect x="840.2" y="1787.2" width="17.6" height="17.6" fill="#b34b81"/>
<rect x="919.5" y="1753.9" width="17.6" height="17.6" fill="#b34b81"/>
<path d="M769.3,1949.3V1991.7M759.8,1949.3H778.8M759.8,1991.7H778.8" stroke="#000" stroke-width="2.3" fill="none"/>
<polygon points="451.7,2022.9 460.5,2040.5 442.9,2040.5" fill="#dcc637"/>
<polygon points="690,2000.5 698.8,2018.1 681.2,2018.1" fill="#dcc637"/>
<polygon points="769.3,1962.9 778.0999999999999,1980.5 760.5,1980.5" fill="#dcc637"/>
<polygon points="849,1904.5 857.8,1922.1 840.2,1922.1" fill="#dcc637"/>
<polygon points="928.3,1824.5 937.0999999999999,1842.1 919.5,1842.1" fill="#dcc637"/>
<path d="M372.7,1988V2016M363.2,1988H382.2M363.2,2016H382.2" stroke="#000" stroke-width="2.3" fill="none"/>
<path d="M451.7,1995.3V2034M442.2,1995.3H461.2M442.2,2034H461.2" stroke="#000" stroke-width="2.3" fill="none"/>
<path d="M531,2001.7V2021.7M521.5,2001.7H540.5M521.5,2021.7H540.5" stroke="#000" stroke-width="2.3" fill="none"/>
<path d="M610.7,1912.7V1930.7M601.2,1912.7H620.2M601.2,1930.7H620.2" stroke="#000" stroke-width="2.3" fill="none"/>
<path d="M690,1774V1792.5M680.5,1774H699.5M680.5,1792.5H699.5" stroke="#000" stroke-width="2.3" fill="none"/>
<path d="M849,1718.3V1742.7M839.5,1718.3H858.5M839.5,1742.7H858.5" stroke="#000" stroke-width="2.3" fill="none"/>
<circle cx="372.7" cy="2001.7" r="8.7" fill="#388669"/>
<circle cx="451.7" cy="2015" r="8.7" fill="#388669"/>
<circle cx="531" cy="2011.7" r="8.7" fill="#388669"/>
<circle cx="610.7" cy="1921.7" r="8.7" fill="#388669"/>
<circle cx="690" cy="1783.3" r="8.7" fill="#388669"/>
<circle cx="769.3" cy="1749.3" r="8.7" fill="#388669"/>
<circle cx="849" cy="1730.7" r="8.7" fill="#388669"/>
<circle cx="928.3" cy="1742.7" r="8.7" fill="#388669"/>
<path d="M531,2002.5V2034M521.5,2002.5H540.5M521.5,2034H540.5" stroke="#000" stroke-width="2.3" fill="none"/>
<path d="M690,1959.3V1981M680.5,1959.3H699.5M680.5,1981H699.5" stroke="#000" stroke-width="2.3" fill="none"/>
<path d="M769.3,1858V1885M759.8,1858H778.8M759.8,1885H778.8" stroke="#000" stroke-width="2.3" fill="none"/>
<path d="M849,1806.7V1830M839.5,1806.7H858.5M839.5,1830H858.5" stroke="#000" stroke-width="2.3" fill="none"/>
<polygon points="531,2017.8 541.5,2028.3 531,2038.8 520.5,2028.3" fill="#000"/>
<polygon points="610.7,2016.2 621.2,2026.7 610.7,2037.2 600.2,2026.7" fill="#000"/>
<polygon points="690,1959.5 700.5,1970 690,1980.5 679.5,1970" fill="#000"/>
<polygon points="769.3,1857.8 779.8,1868.3 769.3,1878.8 758.8,1868.3" fill="#000"/>
<polygon points="849,1807.8 859.5,1818.3 849,1828.8 838.5,1818.3" fill="#000"/>
<polygon points="928.3,1785.5 938.8,1796 928.3,1806.5 917.8,1796" fill="#000"/>
<line x1="398.7" y1="1644.5" x2="447.5" y2="1644.5" stroke="#000" stroke-width="2.2" />
<polygon points="422.5,1634.0 433.0,1644.5 422.5,1655.0 412.0,1644.5" fill="#000"/>
<text x="473.0" y="1657.7" font-size="36" stroke="#000" stroke-width="0.35" text-anchor="start" fill="#000" >EFV</text>
<line x1="398.7" y1="1707.0" x2="447.5" y2="1707.0" stroke="#388669" stroke-width="2.2" />
<circle cx="422.5" cy="1707" r="8.7" fill="#388669"/>
<text x="473.0" y="1720.2" font-size="36" stroke="#000" stroke-width="0.35" text-anchor="start" fill="#000" >JLJ648</text>
<line x1="398.7" y1="1769.3" x2="447.5" y2="1769.3" stroke="#b34b81" stroke-width="2.2" />
<rect x="413.7" y="1760.5" width="17.6" height="17.6" fill="#b34b81"/>
<text x="473.0" y="1782.5" font-size="36" stroke="#000" stroke-width="0.35" text-anchor="start" fill="#000" >JLJ600</text>
<line x1="398.7" y1="1831.3" x2="447.5" y2="1831.3" stroke="#dcc637" stroke-width="2.2" />
<polygon points="422.5,1822.5 431.3,1840.1 413.7,1840.1" fill="#dcc637"/>
<text x="473.0" y="1844.5" font-size="36" stroke="#000" stroke-width="0.35" text-anchor="start" fill="#000" >JLJ555</text>
<line x1="1239.5" y1="2034.0" x2="1258.3" y2="2034.0" stroke="#000" stroke-width="4.2" />
<line x1="1247.8" y1="2015.5" x2="1258.3" y2="2015.5" stroke="#000" stroke-width="3.8" />
<line x1="1247.8" y1="1997.0" x2="1258.3" y2="1997.0" stroke="#000" stroke-width="3.8" />
<line x1="1247.8" y1="1978.6" x2="1258.3" y2="1978.6" stroke="#000" stroke-width="3.8" />
<line x1="1247.8" y1="1960.1" x2="1258.3" y2="1960.1" stroke="#000" stroke-width="3.8" />
<line x1="1247.8" y1="1941.6" x2="1258.3" y2="1941.6" stroke="#000" stroke-width="3.8" />
<line x1="1247.8" y1="1923.2" x2="1258.3" y2="1923.2" stroke="#000" stroke-width="3.8" />
<line x1="1247.8" y1="1904.7" x2="1258.3" y2="1904.7" stroke="#000" stroke-width="3.8" />
<line x1="1247.8" y1="1886.2" x2="1258.3" y2="1886.2" stroke="#000" stroke-width="3.8" />
<line x1="1247.8" y1="1867.7" x2="1258.3" y2="1867.7" stroke="#000" stroke-width="3.8" />
<line x1="1239.5" y1="1849.2" x2="1258.3" y2="1849.2" stroke="#000" stroke-width="4.2" />
<line x1="1247.8" y1="1830.8" x2="1258.3" y2="1830.8" stroke="#000" stroke-width="3.8" />
<line x1="1247.8" y1="1812.3" x2="1258.3" y2="1812.3" stroke="#000" stroke-width="3.8" />
<line x1="1247.8" y1="1793.8" x2="1258.3" y2="1793.8" stroke="#000" stroke-width="3.8" />
<line x1="1247.8" y1="1775.3" x2="1258.3" y2="1775.3" stroke="#000" stroke-width="3.8" />
<line x1="1247.8" y1="1756.9" x2="1258.3" y2="1756.9" stroke="#000" stroke-width="3.8" />
<line x1="1247.8" y1="1738.4" x2="1258.3" y2="1738.4" stroke="#000" stroke-width="3.8" />
<line x1="1247.8" y1="1719.9" x2="1258.3" y2="1719.9" stroke="#000" stroke-width="3.8" />
<line x1="1247.8" y1="1701.5" x2="1258.3" y2="1701.5" stroke="#000" stroke-width="3.8" />
<line x1="1247.8" y1="1683.0" x2="1258.3" y2="1683.0" stroke="#000" stroke-width="3.8" />
<line x1="1239.5" y1="1664.5" x2="1258.3" y2="1664.5" stroke="#000" stroke-width="4.2" />
<line x1="1247.8" y1="1646.0" x2="1258.3" y2="1646.0" stroke="#000" stroke-width="3.8" />
<line x1="1247.8" y1="1627.5" x2="1258.3" y2="1627.5" stroke="#000" stroke-width="3.8" />
<line x1="1247.8" y1="1609.1" x2="1258.3" y2="1609.1" stroke="#000" stroke-width="3.8" />
<line x1="1247.8" y1="1590.6" x2="1258.3" y2="1590.6" stroke="#000" stroke-width="3.8" />
<line x1="1258.3" y1="1588.6" x2="1258.3" y2="2036.2" stroke="#000" stroke-width="4.4" />
<line x1="1258.3" y1="2034.0" x2="1923.5" y2="2034.0" stroke="#000" stroke-width="4.4" />
<line x1="1258.3" y1="2034.0" x2="1258.3" y2="2052.5" stroke="#000" stroke-width="4.4" />
<text x="1258.3" y="2090.5" font-size="33" font-weight="bold" text-anchor="middle" fill="#000" >0.001</text>
<line x1="1391.2" y1="2034.0" x2="1391.2" y2="2052.5" stroke="#000" stroke-width="4.4" />
<text x="1391.2" y="2090.5" font-size="33" font-weight="bold" text-anchor="middle" fill="#000" >0.01</text>
<line x1="1524.1" y1="2034.0" x2="1524.1" y2="2052.5" stroke="#000" stroke-width="4.4" />
<text x="1524.1" y="2090.5" font-size="33" font-weight="bold" text-anchor="middle" fill="#000" >0.1</text>
<line x1="1657.0" y1="2034.0" x2="1657.0" y2="2052.5" stroke="#000" stroke-width="4.4" />
<text x="1657.0" y="2090.5" font-size="33" font-weight="bold" text-anchor="middle" fill="#000" >1</text>
<line x1="1789.9" y1="2034.0" x2="1789.9" y2="2052.5" stroke="#000" stroke-width="4.4" />
<text x="1789.9" y="2090.5" font-size="33" font-weight="bold" text-anchor="middle" fill="#000" >10</text>
<line x1="1922.8" y1="2034.0" x2="1922.8" y2="2052.5" stroke="#000" stroke-width="4.4" />
<text x="1922.8" y="2090.5" font-size="33" font-weight="bold" text-anchor="middle" fill="#000" >100</text>
<text x="1233.0" y="2046.3" font-size="34.5" font-weight="bold" text-anchor="end" fill="#000" >0</text>
<text x="1233.0" y="1861.5" font-size="34.5" font-weight="bold" text-anchor="end" fill="#000" >50</text>
<text x="1233.0" y="1676.8" font-size="34.5" font-weight="bold" text-anchor="end" fill="#000" >100</text>
<text x="1591.0" y="2140.5" font-size="36" font-weight="bold" text-anchor="middle" fill="#000" >Compound Concentration (µM)</text>
<text transform="translate(1155,1810.7) rotate(-90)" font-size="36" font-weight="bold" text-anchor="middle" fill="#000">Percent Effect</text>
<polyline points="1340.7,2031.9 1343.3,2031.8 1346.0,2031.7 1348.6,2031.6 1351.3,2031.5 1353.9,2031.4 1356.6,2031.3 1359.2,2031.1 1361.9,2031.0 1364.5,2030.8 1367.2,2030.6 1369.8,2030.5 1372.5,2030.3 1375.1,2030.1 1377.8,2029.9 1380.4,2029.6 1383.0,2029.4 1385.7,2029.1 1388.3,2028.9 1391.0,2028.6 1393.6,2028.3 1396.3,2028.0 1398.9,2027.6 1401.6,2027.2 1404.2,2026.9 1406.9,2026.4 1409.5,2026.0 1412.2,2025.5 1414.8,2025.1 1417.4,2024.5 1420.1,2024.0 1422.7,2023.4 1425.4,2022.8 1428.0,2022.1 1430.7,2021.4 1433.3,2020.7 1436.0,2019.9 1438.6,2019.1 1441.3,2018.2 1443.9,2017.3 1446.6,2016.4 1449.2,2015.3 1451.9,2014.2 1454.5,2013.1 1457.1,2011.9 1459.8,2010.6 1462.4,2009.3 1465.1,2007.8 1467.7,2006.3 1470.4,2004.8 1473.0,2003.1 1475.7,2001.3 1478.3,1999.5 1481.0,1997.6 1483.6,1995.5 1486.3,1993.4 1488.9,1991.2 1491.6,1988.8 1494.2,1986.4 1496.8,1983.8 1499.5,1981.1 1502.1,1978.3 1504.8,1975.4 1507.4,1972.3 1510.1,1969.1 1512.7,1965.8 1515.4,1962.4 1518.0,1958.8 1520.7,1955.1 1523.3,1951.3 1526.0,1947.3 1528.6,1943.2 1531.2,1939.0 1533.9,1934.6 1536.5,1930.1 1539.2,1925.5 1541.8,1920.8 1544.5,1915.9 1547.1,1911.0 1549.8,1905.9 1552.4,1900.8 1555.1,1895.6 1557.7,1890.2 1560.4,1884.9 1563.0,1879.4 1565.7,1873.9 1568.3,1868.3 1570.9,1862.7 1573.6,1857.1 1576.2,1851.5 1578.9,1845.9 1581.5,1840.2 1584.2,1834.6 1586.8,1829.0 1589.5,1823.5 1592.1,1818.0 1594.8,1812.5 1597.4,1807.1 1600.1,1801.8 1602.7,1796.6 1605.3,1791.5 1608.0,1786.4 1610.6,1781.5 1613.3,1776.7 1615.9,1772.0 1618.6,1767.4 1621.2,1762.9 1623.9,1758.5 1626.5,1754.3 1629.2,1750.2 1631.8,1746.3 1634.5,1742.5 1637.1,1738.8 1639.8,1735.2 1642.4,1731.8 1645.0,1728.5 1647.7,1725.3 1650.3,1722.3 1653.0,1719.4 1655.6,1716.6 1658.3,1713.9 1660.9,1711.3 1663.6,1708.9 1666.2,1706.6 1668.9,1704.3 1671.5,1702.2 1674.2,1700.2 1676.8,1698.3 1679.5,1696.4 1682.1,1694.7 1684.7,1693.1 1687.4,1691.5 1690.0,1690.0 1692.7,1688.6 1695.3,1687.2 1698.0,1686.0 1700.6,1684.8 1703.3,1683.6 1705.9,1682.6 1708.6,1681.5 1711.2,1680.6 1713.9,1679.7 1716.5,1678.8 1719.1,1678.0 1721.8,1677.2 1724.4,1676.5 1727.1,1675.8 1729.7,1675.1 1732.4,1674.5 1735.0,1673.9 1737.7,1673.4 1740.3,1672.9 1743.0,1672.4 1745.6,1671.9 1748.3,1671.5 1750.9,1671.1 1753.6,1670.7 1756.2,1670.4 1758.8,1670.0 1761.5,1669.7 1764.1,1669.4 1766.8,1669.1 1769.4,1668.8 1772.1,1668.6 1774.7,1668.3 1777.4,1668.1 1780.0,1667.9 1782.7,1667.7 1785.3,1667.5 1788.0,1667.3 1790.6,1667.2 1793.3,1667.0 1795.9,1666.9 1798.5,1666.7 1801.2,1666.6 1803.8,1666.5 1806.5,1666.4 1809.1,1666.2 1811.8,1666.1 1814.4,1666.0 1817.1,1666.0 1819.7,1665.9 1822.4,1665.8 1825.0,1665.7 1827.7,1665.6 1830.3,1665.6 1832.9,1665.5 1835.6,1665.4 1838.2,1665.4 1840.9,1665.3 1843.5,1665.3 1846.2,1665.2 1848.8,1665.2 1851.5,1665.2 1854.1,1665.1 1856.8,1665.1 1859.4,1665.0 1862.1,1665.0 1864.7,1665.0 1867.4,1665.0 1870.0,1664.9" fill="none" stroke="#b34b81" stroke-width="2.3"/>
<polyline points="1365.0,2033.1 1367.6,2033.1 1370.3,2033.1 1372.9,2033.1 1375.6,2033.0 1378.2,2033.0 1380.8,2033.0 1383.5,2032.9 1386.1,2032.9 1388.8,2032.9 1391.4,2032.8 1394.1,2032.8 1396.7,2032.7 1399.3,2032.7 1402.0,2032.6 1404.6,2032.6 1407.3,2032.5 1409.9,2032.5 1412.5,2032.4 1415.2,2032.3 1417.8,2032.2 1420.5,2032.2 1423.1,2032.1 1425.8,2032.0 1428.4,2031.9 1431.0,2031.8 1433.7,2031.7 1436.3,2031.6 1439.0,2031.4 1441.6,2031.3 1444.2,2031.2 1446.9,2031.0 1449.5,2030.8 1452.2,2030.7 1454.8,2030.5 1457.5,2030.3 1460.1,2030.1 1462.7,2029.9 1465.4,2029.6 1468.0,2029.4 1470.7,2029.1 1473.3,2028.8 1475.9,2028.5 1478.6,2028.2 1481.2,2027.9 1483.9,2027.5 1486.5,2027.1 1489.2,2026.7 1491.8,2026.3 1494.4,2025.8 1497.1,2025.3 1499.7,2024.8 1502.4,2024.2 1505.0,2023.6 1507.6,2023.0 1510.3,2022.3 1512.9,2021.6 1515.6,2020.9 1518.2,2020.1 1520.8,2019.3 1523.5,2018.4 1526.1,2017.4 1528.8,2016.4 1531.4,2015.4 1534.1,2014.2 1536.7,2013.0 1539.3,2011.8 1542.0,2010.5 1544.6,2009.0 1547.3,2007.6 1549.9,2006.0 1552.5,2004.3 1555.2,2002.6 1557.8,2000.8 1560.5,1998.8 1563.1,1996.8 1565.8,1994.6 1568.4,1992.4 1571.0,1990.0 1573.7,1987.5 1576.3,1984.9 1579.0,1982.2 1581.6,1979.3 1584.2,1976.3 1586.9,1973.2 1589.5,1969.9 1592.2,1966.5 1594.8,1963.0 1597.5,1959.3 1600.1,1955.5 1602.7,1951.5 1605.4,1947.4 1608.0,1943.2 1610.7,1938.8 1613.3,1934.2 1615.9,1929.6 1618.6,1924.8 1621.2,1919.9 1623.9,1914.8 1626.5,1909.7 1629.2,1904.4 1631.8,1899.1 1634.4,1893.6 1637.1,1888.1 1639.7,1882.5 1642.4,1876.8 1645.0,1871.0 1647.6,1865.3 1650.3,1859.5 1652.9,1853.6 1655.6,1847.8 1658.2,1842.0 1660.8,1836.1 1663.5,1830.3 1666.1,1824.6 1668.8,1818.9 1671.4,1813.2 1674.1,1807.6 1676.7,1802.1 1679.3,1796.7 1682.0,1791.4 1684.6,1786.2 1687.3,1781.1 1689.9,1776.1 1692.5,1771.2 1695.2,1766.5 1697.8,1761.9 1700.5,1757.4 1703.1,1753.1 1705.8,1748.9 1708.4,1744.8 1711.0,1740.9 1713.7,1737.2 1716.3,1733.5 1719.0,1730.1 1721.6,1726.7 1724.2,1723.5 1726.9,1720.4 1729.5,1717.5 1732.2,1714.7 1734.8,1712.0 1737.5,1709.4 1740.1,1707.0 1742.7,1704.7 1745.4,1702.5 1748.0,1700.4 1750.7,1698.4 1753.3,1696.5 1755.9,1694.7 1758.6,1693.0 1761.2,1691.3 1763.9,1689.8 1766.5,1688.4 1769.1,1687.0 1771.8,1685.7 1774.4,1684.5 1777.1,1683.3 1779.7,1682.2 1782.4,1681.2 1785.0,1680.2 1787.6,1679.3 1790.3,1678.4 1792.9,1677.6 1795.6,1676.8 1798.2,1676.1 1800.8,1675.4 1803.5,1674.7 1806.1,1674.1 1808.8,1673.5 1811.4,1673.0 1814.1,1672.5 1816.7,1672.0 1819.3,1671.6 1822.0,1671.1 1824.6,1670.7 1827.3,1670.4 1829.9,1670.0 1832.5,1669.7 1835.2,1669.4 1837.8,1669.1 1840.5,1668.8 1843.1,1668.5 1845.8,1668.3 1848.4,1668.1 1851.0,1667.8 1853.7,1667.6 1856.3,1667.4 1859.0,1667.3 1861.6,1667.1 1864.2,1666.9 1866.9,1666.8 1869.5,1666.6 1872.2,1666.5 1874.8,1666.4 1877.5,1666.3 1880.1,1666.2 1882.7,1666.1 1885.4,1666.0 1888.0,1665.9 1890.7,1665.8 1893.3,1665.7" fill="none" stroke="#dcc637" stroke-width="2.3"/>
<polyline points="1352.7,2027.2 1355.0,2026.9 1357.3,2026.5 1359.6,2026.1 1361.9,2025.7 1364.2,2025.3 1366.5,2024.8 1368.8,2024.4 1371.2,2023.8 1373.5,2023.3 1375.8,2022.7 1378.1,2022.1 1380.4,2021.5 1382.7,2020.9 1385.0,2020.2 1387.3,2019.4 1389.6,2018.7 1391.9,2017.8 1394.2,2017.0 1396.5,2016.1 1398.8,2015.2 1401.1,2014.2 1403.4,2013.1 1405.7,2012.0 1408.1,2010.9 1410.4,2009.7 1412.7,2008.4 1415.0,2007.1 1417.3,2005.7 1419.6,2004.2 1421.9,2002.7 1424.2,2001.1 1426.5,1999.4 1428.8,1997.6 1431.1,1995.8 1433.4,1993.9 1435.7,1991.9 1438.0,1989.8 1440.3,1987.6 1442.7,1985.3 1445.0,1982.9 1447.3,1980.5 1449.6,1977.9 1451.9,1975.2 1454.2,1972.4 1456.5,1969.5 1458.8,1966.6 1461.1,1963.5 1463.4,1960.3 1465.7,1956.9 1468.0,1953.5 1470.3,1950.0 1472.6,1946.3 1474.9,1942.6 1477.3,1938.7 1479.6,1934.8 1481.9,1930.7 1484.2,1926.5 1486.5,1922.3 1488.8,1917.9 1491.1,1913.5 1493.4,1908.9 1495.7,1904.3 1498.0,1899.6 1500.3,1894.8 1502.6,1890.0 1504.9,1885.1 1507.2,1880.1 1509.5,1875.1 1511.8,1870.1 1514.2,1865.0 1516.5,1859.9 1518.8,1854.8 1521.1,1849.7 1523.4,1844.6 1525.7,1839.5 1528.0,1834.4 1530.3,1829.3 1532.6,1824.2 1534.9,1819.2 1537.2,1814.3 1539.5,1809.4 1541.8,1804.5 1544.1,1799.7 1546.4,1795.0 1548.8,1790.3 1551.1,1785.8 1553.4,1781.3 1555.7,1776.9 1558.0,1772.6 1560.3,1768.4 1562.6,1764.3 1564.9,1760.3 1567.2,1756.5 1569.5,1752.7 1571.8,1749.0 1574.1,1745.4 1576.4,1742.0 1578.7,1738.6 1581.0,1735.4 1583.3,1732.3 1585.7,1729.3 1588.0,1726.4 1590.3,1723.5 1592.6,1720.8 1594.9,1718.2 1597.2,1715.7 1599.5,1713.3 1601.8,1711.0 1604.1,1708.8 1606.4,1706.7 1608.7,1704.7 1611.0,1702.7 1613.3,1700.9 1615.6,1699.1 1617.9,1697.4 1620.3,1695.8 1622.6,1694.2 1624.9,1692.7 1627.2,1691.3 1629.5,1690.0 1631.8,1688.7 1634.1,1687.5 1636.4,1686.3 1638.7,1685.2 1641.0,1684.1 1643.3,1683.1 1645.6,1682.2 1647.9,1681.2 1650.2,1680.4 1652.5,1679.6 1654.9,1678.8 1657.2,1678.0 1659.5,1677.3 1661.8,1676.7 1664.1,1676.0 1666.4,1675.4 1668.7,1674.8 1671.0,1674.3 1673.3,1673.8 1675.6,1673.3 1677.9,1672.8 1680.2,1672.4 1682.5,1672.0 1684.8,1671.6 1687.1,1671.2 1689.4,1670.8 1691.8,1670.5 1694.1,1670.2 1696.4,1669.9 1698.7,1669.6 1701.0,1669.3 1703.3,1669.1 1705.6,1668.8 1707.9,1668.6 1710.2,1668.4 1712.5,1668.2 1714.8,1668.0 1717.1,1667.8 1719.4,1667.6 1721.7,1667.4 1724.0,1667.3 1726.4,1667.1 1728.7,1667.0 1731.0,1666.9 1733.3,1666.7 1735.6,1666.6 1737.9,1666.5 1740.2,1666.4 1742.5,1666.3 1744.8,1666.2 1747.1,1666.1 1749.4,1666.0 1751.7,1665.9 1754.0,1665.9 1756.3,1665.8 1758.6,1665.7 1761.0,1665.7 1763.3,1665.6 1765.6,1665.5 1767.9,1665.5 1770.2,1665.4 1772.5,1665.4 1774.8,1665.3 1777.1,1665.3 1779.4,1665.2 1781.7,1665.2 1784.0,1665.2 1786.3,1665.1 1788.6,1665.1 1790.9,1665.1 1793.2,1665.0 1795.5,1665.0 1797.9,1665.0 1800.2,1664.9 1802.5,1664.9 1804.8,1664.9 1807.1,1664.9 1809.4,1664.9 1811.7,1664.8 1814.0,1664.8" fill="none" stroke="#317c5f" stroke-width="2.3"/>
<path d="M1500,1962.3V1998.3M1490.5,1962.3H1509.5M1490.5,1998.3H1509.5" stroke="#000" stroke-width="2.3" fill="none"/>
<path d="M1552.7,1886.7V1925M1543.2,1886.7H1562.2M1543.2,1925H1562.2" stroke="#000" stroke-width="2.3" fill="none"/>
<path d="M1605.7,1768.3V1818.3M1596.2,1768.3H1615.2M1596.2,1818.3H1615.2" stroke="#000" stroke-width="2.3" fill="none"/>
<path d="M1658.3,1688.3V1712.7M1648.8,1688.3H1667.8M1648.8,1712.7H1667.8" stroke="#000" stroke-width="2.3" fill="none"/>
<path d="M1711.7,1656V1684M1702.2,1656H1721.2M1702.2,1684H1721.2" stroke="#000" stroke-width="2.3" fill="none"/>
<path d="M1764.3,1666.7V1751.7M1754.8,1666.7H1773.8M1754.8,1751.7H1773.8" stroke="#000" stroke-width="2.3" fill="none"/>
<path d="M1817.3,1660V1703.3M1807.8,1660H1826.8M1807.8,1703.3H1826.8" stroke="#000" stroke-width="2.3" fill="none"/>
<path d="M1870,1655V1710.7M1860.5,1655H1879.5M1860.5,1710.7H1879.5" stroke="#000" stroke-width="2.3" fill="none"/>
<rect x="1331.9" y="2019.5" width="17.6" height="17.6" fill="#b34b81"/>
<rect x="1385.2" y="2013.9" width="17.6" height="17.6" fill="#b34b81"/>
<rect x="1437.9" y="1998.5" width="17.6" height="17.6" fill="#b34b81"/>
<rect x="1491.2" y="1971.2" width="17.6" height="17.6" fill="#b34b81"/>
<rect x="1543.9" y="1897.2" width="17.6" height="17.6" fill="#b34b81"/>
<rect x="1596.9" y="1784.5" width="17.6" height="17.6" fill="#b34b81"/>
<rect x="1649.5" y="1691.9" width="17.6" height="17.6" fill="#b34b81"/>
<rect x="1702.9" y="1661.9" width="17.6" height="17.6" fill="#b34b81"/>
<rect x="1755.5" y="1700.5" width="17.6" height="17.6" fill="#b34b81"/>
<rect x="1808.5" y="1672.9" width="17.6" height="17.6" fill="#b34b81"/>
<rect x="1861.2" y="1674.5" width="17.6" height="17.6" fill="#b34b81"/>
<path d="M1629,1896V1917.7M1619.5,1896H1638.5M1619.5,1917.7H1638.5" stroke="#000" stroke-width="2.3" fill="none"/>
<path d="M1735,1687.3V1715M1725.5,1687.3H1744.5M1725.5,1715H1744.5" stroke="#000" stroke-width="2.3" fill="none"/>
<path d="M1787.7,1649.3V1686M1778.2,1649.3H1797.2M1778.2,1686H1797.2" stroke="#000" stroke-width="2.3" fill="none"/>
<path d="M1840.7,1648.3V1680M1831.2,1648.3H1850.2M1831.2,1680H1850.2" stroke="#000" stroke-width="2.3" fill="none"/>
<path d="M1893.3,1670V1691.7M1883.8,1670H1902.8M1883.8,1691.7H1902.8" stroke="#000" stroke-width="2.3" fill="none"/>
<polygon points="1365,2022.9 1373.8,2040.5 1356.2,2040.5" fill="#dcc637"/>
<polygon points="1417.3,2017.9 1426.1,2035.5 1408.5,2035.5" fill="#dcc637"/>
<polygon points="1470,2012.9 1478.8,2030.5 1461.2,2030.5" fill="#dcc637"/>
<polygon points="1523.3,1995.2 1532.1,2012.8 1514.5,2012.8" fill="#dcc637"/>
<polygon points="1576,1973.9 1584.8,1991.5 1567.2,1991.5" fill="#dcc637"/>
<polygon points="1629,1899.5 1637.8,1917.1 1620.2,1917.1" fill="#dcc637"/>
<polygon points="1682.3,1789.5 1691.1,1807.1 1673.5,1807.1" fill="#dcc637"/>
<polygon points="1735,1692.9 1743.8,1710.5 1726.2,1710.5" fill="#dcc637"/>
<polygon points="1787.7,1659.5 1796.5,1677.1 1778.9,1677.1" fill="#dcc637"/>
<polygon points="1840.7,1655.5 1849.5,1673.1 1831.9,1673.1" fill="#dcc637"/>
<polygon points="1893.3,1672.9 1902.1,1690.5 1884.5,1690.5" fill="#dcc637"/>
<path d="M1491,1885V1936M1481.5,1885H1500.5M1481.5,1936H1500.5" stroke="#000" stroke-width="2.3" fill="none"/>
<path d="M1537.3,1809.3V1830M1527.8,1809.3H1546.8M1527.8,1830H1546.8" stroke="#000" stroke-width="2.3" fill="none"/>
<path d="M1583.3,1716.7V1748.3M1573.8,1716.7H1592.8M1573.8,1748.3H1592.8" stroke="#000" stroke-width="2.3" fill="none"/>
<path d="M1629,1656.7V1690.7M1619.5,1656.7H1638.5M1619.5,1690.7H1638.5" stroke="#000" stroke-width="2.3" fill="none"/>
<path d="M1675.7,1646.7V1717.3M1666.2,1646.7H1685.2M1666.2,1717.3H1685.2" stroke="#000" stroke-width="2.3" fill="none"/>
<path d="M1721.7,1630.7V1718.3M1712.2,1630.7H1731.2M1712.2,1718.3H1731.2" stroke="#000" stroke-width="2.3" fill="none"/>
<path d="M1767.3,1646.7V1721.7M1757.8,1646.7H1776.8M1757.8,1721.7H1776.8" stroke="#000" stroke-width="2.3" fill="none"/>
<path d="M1814,1646V1725M1804.5,1646H1823.5M1804.5,1725H1823.5" stroke="#000" stroke-width="2.3" fill="none"/>
<circle cx="1352.7" cy="2021.7" r="8.7" fill="#388669"/>
<circle cx="1399" cy="2010" r="8.7" fill="#388669"/>
<circle cx="1445" cy="1986" r="8.7" fill="#388669"/>
<circle cx="1491" cy="1911" r="8.7" fill="#388669"/>
<circle cx="1537.3" cy="1819.3" r="8.7" fill="#388669"/>
<circle cx="1583.3" cy="1732.7" r="8.7" fill="#388669"/>
<circle cx="1629" cy="1673.3" r="8.7" fill="#388669"/>
<circle cx="1675.7" cy="1682.3" r="8.7" fill="#388669"/>
<circle cx="1721.7" cy="1674" r="8.7" fill="#388669"/>
<circle cx="1767.3" cy="1684.3" r="8.7" fill="#388669"/>
<circle cx="1814" cy="1685.7" r="8.7" fill="#388669"/>
<line x1="1778.4" y1="1828.4" x2="1827.2" y2="1828.4" stroke="#388669" stroke-width="2.2" />
<circle cx="1802.9" cy="1828.4" r="8.7" fill="#388669"/>
<text x="1853.0" y="1841.0" font-size="36" stroke="#000" stroke-width="0.35" text-anchor="start" fill="#000" >JLJ648</text>
<line x1="1778.4" y1="1890.0" x2="1827.2" y2="1890.0" stroke="#b34b81" stroke-width="2.2" />
<rect x="1794.1" y="1881.2" width="17.6" height="17.6" fill="#b34b81"/>
<text x="1853.0" y="1902.6" font-size="36" stroke="#000" stroke-width="0.35" text-anchor="start" fill="#000" >JLJ600</text>
<line x1="1778.4" y1="1952.2" x2="1827.2" y2="1952.2" stroke="#dcc637" stroke-width="2.2" />
<polygon points="1802.9,1943.4 1811.7,1961.0 1794.1000000000001,1961.0" fill="#dcc637"/>
<text x="1853.0" y="1964.8" font-size="36" stroke="#000" stroke-width="0.35" text-anchor="start" fill="#000" >JLJ555</text>
</svg></body></html>
